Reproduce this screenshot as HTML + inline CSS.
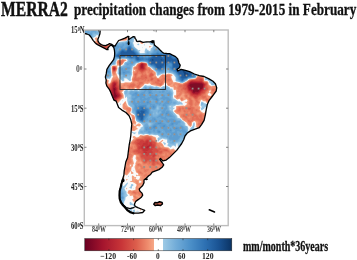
<!DOCTYPE html>
<html><head><meta charset="utf-8"><style>
html,body{margin:0;padding:0;background:#fff;width:357px;height:260px;overflow:hidden;}
sup{font-size:62%;vertical-align:0;position:relative;top:-0.42em;margin-left:0.03em;}
</style></head><body>
<div style="position:absolute;left:1.3px;top:-1.3px;font-family:'Liberation Serif',serif;font-weight:bold;font-size:20.5px;color:#111;white-space:nowrap;line-height:1;transform:scaleX(0.761);transform-origin:0 0;-webkit-text-stroke:0.45px #111;">MERRA2</div>
<div style="position:absolute;left:74.2px;top:1.5px;font-family:'Liberation Serif',serif;font-weight:bold;font-size:16.5px;color:#111;white-space:nowrap;line-height:1;transform:scaleX(0.798);transform-origin:0 0;-webkit-text-stroke:0.3px #111;">precipitation changes from 1979-2015 in February</div>
<svg width="357" height="260" style="position:absolute;left:0;top:0">
<defs>
<clipPath id="land"><path d="M84.0,29.5 L100.3,29.5 L99.9,33.8 L98.9,36.7 L97.9,39.2 L98.0,41.2 L99.3,43.2 L101.3,44.6 L103.5,45.5 L105.6,45.7 L107.8,44.7 L109.5,43.6 L111.9,44.4 L113.3,45.6 L115.0,46.2 L116.3,44.0 L118.6,40.5 L120.0,40.0 L122.5,39.1 L124.9,38.2 L126.8,37.2 L128.0,36.3 L128.9,36.6 L128.6,38.2 L128.3,40.0 L129.8,38.8 L131.4,37.8 L132.3,37.2 L133.5,36.6 L134.8,36.9 L135.1,38.5 L136.0,39.4 L136.6,41.2 L137.8,41.5 L140.0,41.2 L143.0,42.3 L146.5,41.9 L150.0,41.9 L152.9,40.9 L153.9,42.4 L154.4,44.9 L155.9,46.3 L157.8,47.8 L159.8,49.8 L161.8,51.7 L163.7,53.2 L166.7,53.5 L169.6,53.7 L172.5,55.2 L175.5,56.6 L177.5,58.6 L178.4,61.0 L178.9,63.0 L180.2,65.2 L179.4,67.8 L177.0,69.4 L177.8,71.0 L181.0,69.4 L184.5,70.1 L189.6,71.6 L194.4,74.0 L199.3,75.7 L204.1,76.5 L209.0,78.9 L213.0,81.3 L215.4,83.7 L216.7,87.8 L216.2,91.0 L213.8,94.3 L211.4,97.5 L209.0,100.7 L207.3,104.6 L206.2,109.9 L205.4,114.7 L204.1,120.4 L201.7,124.4 L199.3,127.6 L194.4,129.3 L190.4,130.9 L187.1,133.3 L185.0,136.0 L183.7,139.8 L181.7,143.5 L179.1,147.1 L176.7,150.4 L173.4,153.6 L169.4,157.6 L166.2,160.1 L162.9,160.9 L160.5,158.4 L159.7,159.3 L162.1,162.5 L163.7,164.9 L162.1,167.3 L158.9,169.6 L154.9,171.1 L152.2,172.2 L150.6,174.4 L148.7,175.8 L146.2,178.2 L144.0,180.0 L144.0,182.8 L142.7,185.5 L140.6,187.6 L139.2,189.0 L139.9,191.1 L142.0,193.1 L142.7,195.2 L141.3,197.3 L138.5,199.4 L135.7,201.4 L134.4,204.2 L135.1,206.3 L137.8,207.7 L141.3,209.0 L144.7,210.4 L142.7,212.5 L138.5,213.2 L134.4,213.2 L130.2,211.8 L127.4,209.7 L125.4,207.0 L123.3,204.9 L121.2,202.1 L119.8,198.7 L119.8,195.2 L119.8,191.1 L120.5,187.6 L121.2,184.1 L121.9,181.4 L123.0,178.0 L123.9,175.0 L124.2,171.0 L125.0,166.5 L125.8,162.0 L127.6,157.5 L128.4,151.0 L129.2,145.0 L130.1,140.5 L130.8,135.5 L131.4,128.0 L131.8,124.0 L130.8,119.8 L129.1,115.7 L125.9,112.5 L121.9,110.1 L118.6,107.6 L116.2,101.2 L113.9,100.1 L112.3,96.3 L110.8,92.4 L109.3,89.3 L106.9,86.2 L105.9,83.1 L106.2,80.1 L105.4,77.0 L106.2,73.9 L106.9,69.3 L109.3,65.4 L111.6,62.3 L113.6,59.7 L114.5,56.6 L114.7,53.0 L114.4,50.0 L113.8,47.5 L112.0,45.6 L110.9,45.2 L109.3,46.3 L107.8,48.2 L108.0,49.7 L106.6,49.5 L105.2,48.6 L103.2,47.6 L101.3,46.6 L99.4,45.6 L97.5,44.6 L96.0,43.6 L94.6,42.2 L93.1,40.3 L91.2,37.4 L89.3,35.0 L86.9,34.0 L84.0,33.4 Z"/></clipPath>
<clipPath id="frame"><rect x="84.3" y="30" width="143.9" height="195.6"/></clipPath>
<filter id="blur" x="-5%" y="-5%" width="110%" height="110%"><feGaussianBlur stdDeviation="0.6"/></filter>
<linearGradient id="cb" x1="0" x2="1" y1="0" y2="0">
<stop offset="0" stop-color="#6a0022"/><stop offset="0.12" stop-color="#a3142d"/><stop offset="0.25" stop-color="#c83538"/>
<stop offset="0.35" stop-color="#dc5e4c"/><stop offset="0.43" stop-color="#ef8d6e"/><stop offset="0.471" stop-color="#f6a988"/>
<stop offset="0.471" stop-color="#ffffff"/><stop offset="0.529" stop-color="#ffffff"/>
<stop offset="0.529" stop-color="#9fcbe6"/><stop offset="0.62" stop-color="#72acd8"/><stop offset="0.72" stop-color="#4b8fc8"/>
<stop offset="0.82" stop-color="#2d70b2"/><stop offset="0.91" stop-color="#1a5393"/><stop offset="1" stop-color="#0b3363"/>
</linearGradient>
</defs>
<g clip-path="url(#frame)">
<g clip-path="url(#land)">
<g filter="url(#blur)">
<path fill="#7e0726" fill-rule="evenodd" d="M84.5,30.5 102.5,30.5 102.5,34.5 101.5,35.5 101.5,37.5 100.5,38.5 100.5,41.5 101.5,42.5 103.5,42.5 104.5,43.5 105.5,43.5 108.5,41.5 111.5,41.5 113.5,43.5 119.5,37.5 120.5,37.5 121.5,36.5 123.5,36.5 124.5,35.5 125.5,35.5 128.5,33.5 130.5,35.5 131.5,35.5 132.5,34.5 134.5,34.5 138.5,38.5 140.5,38.5 141.5,39.5 150.5,39.5 151.5,38.5 152.5,38.5 156.5,42.5 156.5,44.5 157.5,45.5 158.5,45.5 163.5,50.5 166.5,50.5 167.5,51.5 170.5,51.5 171.5,52.5 172.5,52.5 173.5,53.5 174.5,53.5 180.5,59.5 180.5,60.5 181.5,61.5 181.5,63.5 182.5,64.5 182.5,66.5 183.5,67.5 185.5,67.5 186.5,68.5 188.5,68.5 189.5,69.5 190.5,69.5 193.5,71.5 195.5,71.5 196.5,72.5 198.5,72.5 199.5,73.5 203.5,73.5 204.5,74.5 205.5,74.5 206.5,75.5 207.5,75.5 208.5,76.5 209.5,76.5 210.5,77.5 211.5,77.5 218.5,84.5 218.5,86.5 219.5,87.5 219.5,88.5 218.5,89.5 218.5,91.5 216.5,93.5 216.5,94.5 213.5,97.5 213.5,98.5 211.5,100.5 211.5,101.5 209.5,104.5 209.5,107.5 208.5,108.5 208.5,113.5 207.5,114.5 207.5,118.5 206.5,119.5 206.5,120.5 205.5,121.5 205.5,122.5 204.5,123.5 204.5,124.5 198.5,130.5 197.5,130.5 196.5,131.5 194.5,131.5 193.5,132.5 191.5,132.5 189.5,134.5 188.5,134.5 187.5,135.5 187.5,136.5 186.5,137.5 186.5,139.5 185.5,140.5 185.5,141.5 184.5,142.5 184.5,143.5 182.5,145.5 182.5,146.5 179.5,149.5 179.5,150.5 169.5,160.5 168.5,160.5 165.5,163.5 165.5,166.5 161.5,170.5 160.5,170.5 158.5,172.5 156.5,172.5 155.5,173.5 154.5,173.5 153.5,174.5 152.5,174.5 146.5,180.5 146.5,183.5 145.5,184.5 145.5,185.5 141.5,189.5 142.5,190.5 142.5,191.5 144.5,193.5 144.5,196.5 139.5,201.5 138.5,201.5 137.5,202.5 137.5,204.5 138.5,205.5 139.5,205.5 140.5,206.5 142.5,206.5 143.5,207.5 144.5,207.5 147.5,210.5 142.5,215.5 132.5,215.5 131.5,214.5 130.5,214.5 129.5,213.5 128.5,213.5 124.5,209.5 124.5,208.5 119.5,203.5 119.5,202.5 117.5,199.5 117.5,188.5 118.5,187.5 118.5,183.5 119.5,182.5 119.5,180.5 120.5,179.5 120.5,176.5 121.5,175.5 121.5,169.5 122.5,168.5 122.5,164.5 123.5,163.5 123.5,160.5 125.5,157.5 125.5,150.5 126.5,149.5 126.5,143.5 127.5,142.5 127.5,138.5 128.5,137.5 128.5,127.5 129.5,126.5 129.5,123.5 128.5,122.5 128.5,119.5 127.5,118.5 127.5,117.5 126.5,116.5 126.5,115.5 125.5,114.5 124.5,114.5 122.5,112.5 121.5,112.5 115.5,106.5 115.5,105.5 114.5,104.5 114.5,102.5 110.5,98.5 110.5,97.5 109.5,96.5 109.5,94.5 108.5,93.5 108.5,92.5 107.5,91.5 107.5,90.5 106.5,89.5 106.5,88.5 104.5,86.5 104.5,85.5 103.5,84.5 103.5,72.5 104.5,71.5 104.5,68.5 106.5,66.5 106.5,65.5 108.5,63.5 108.5,62.5 111.5,59.5 111.5,57.5 112.5,56.5 112.5,51.5 110.5,49.5 107.5,52.5 106.5,51.5 105.5,51.5 104.5,50.5 103.5,50.5 102.5,49.5 101.5,49.5 100.5,48.5 99.5,48.5 98.5,47.5 97.5,47.5 90.5,40.5 90.5,39.5 87.5,36.5 84.5,36.5Z"/>
<path fill="#a2142d" fill-rule="evenodd" d="M84.5,30.5 102.5,30.5 102.5,34.5 101.5,35.5 101.5,37.5 100.5,38.5 100.5,41.5 101.5,42.5 103.5,42.5 104.5,43.5 105.5,43.5 108.5,41.5 111.5,41.5 113.5,43.5 119.5,37.5 120.5,37.5 121.5,36.5 123.5,36.5 124.5,35.5 125.5,35.5 128.5,33.5 130.5,35.5 131.5,35.5 132.5,34.5 134.5,34.5 138.5,38.5 140.5,38.5 141.5,39.5 150.5,39.5 151.5,38.5 152.5,38.5 156.5,42.5 156.5,44.5 157.5,45.5 158.5,45.5 163.5,50.5 166.5,50.5 167.5,51.5 170.5,51.5 171.5,52.5 172.5,52.5 173.5,53.5 174.5,53.5 180.5,59.5 180.5,60.5 181.5,61.5 181.5,63.5 182.5,64.5 182.5,66.5 183.5,67.5 185.5,67.5 186.5,68.5 188.5,68.5 189.5,69.5 190.5,69.5 193.5,71.5 195.5,71.5 196.5,72.5 198.5,72.5 199.5,73.5 203.5,73.5 204.5,74.5 205.5,74.5 206.5,75.5 207.5,75.5 208.5,76.5 209.5,76.5 210.5,77.5 211.5,77.5 218.5,84.5 218.5,86.5 219.5,87.5 219.5,88.5 218.5,89.5 218.5,91.5 216.5,93.5 216.5,94.5 213.5,97.5 213.5,98.5 211.5,100.5 211.5,101.5 209.5,104.5 209.5,107.5 208.5,108.5 208.5,113.5 207.5,114.5 207.5,118.5 206.5,119.5 206.5,120.5 205.5,121.5 205.5,122.5 204.5,123.5 204.5,124.5 198.5,130.5 197.5,130.5 196.5,131.5 194.5,131.5 193.5,132.5 191.5,132.5 189.5,134.5 188.5,134.5 187.5,135.5 187.5,136.5 186.5,137.5 186.5,139.5 185.5,140.5 185.5,141.5 184.5,142.5 184.5,143.5 182.5,145.5 182.5,146.5 179.5,149.5 179.5,150.5 169.5,160.5 168.5,160.5 165.5,163.5 165.5,166.5 161.5,170.5 160.5,170.5 158.5,172.5 156.5,172.5 155.5,173.5 154.5,173.5 153.5,174.5 152.5,174.5 146.5,180.5 146.5,183.5 145.5,184.5 145.5,185.5 141.5,189.5 142.5,190.5 142.5,191.5 144.5,193.5 144.5,196.5 139.5,201.5 138.5,201.5 137.5,202.5 137.5,204.5 138.5,205.5 139.5,205.5 140.5,206.5 142.5,206.5 143.5,207.5 144.5,207.5 147.5,210.5 142.5,215.5 132.5,215.5 131.5,214.5 130.5,214.5 129.5,213.5 128.5,213.5 124.5,209.5 124.5,208.5 119.5,203.5 119.5,202.5 117.5,199.5 117.5,188.5 118.5,187.5 118.5,183.5 119.5,182.5 119.5,180.5 120.5,179.5 120.5,176.5 121.5,175.5 121.5,169.5 122.5,168.5 122.5,164.5 123.5,163.5 123.5,160.5 125.5,157.5 125.5,150.5 126.5,149.5 126.5,143.5 127.5,142.5 127.5,138.5 128.5,137.5 128.5,127.5 129.5,126.5 129.5,123.5 128.5,122.5 128.5,119.5 127.5,118.5 127.5,117.5 126.5,116.5 126.5,115.5 125.5,114.5 124.5,114.5 122.5,112.5 121.5,112.5 115.5,106.5 115.5,105.5 114.5,104.5 114.5,102.5 110.5,98.5 110.5,97.5 109.5,96.5 109.5,94.5 108.5,93.5 108.5,92.5 107.5,91.5 107.5,90.5 106.5,89.5 106.5,88.5 104.5,86.5 104.5,85.5 103.5,84.5 103.5,72.5 104.5,71.5 104.5,68.5 106.5,66.5 106.5,65.5 108.5,63.5 108.5,62.5 111.5,59.5 111.5,57.5 112.5,56.5 112.5,51.5 110.5,49.5 107.5,52.5 106.5,51.5 105.5,51.5 104.5,50.5 103.5,50.5 102.5,49.5 101.5,49.5 100.5,48.5 99.5,48.5 98.5,47.5 97.5,47.5 90.5,40.5 90.5,39.5 87.5,36.5 84.5,36.5ZM113.5,88.2 114.3,94.5 113.5,96.5 114.5,98.0 116.7,96.5 117.0,95.5 115.8,94.5 114.7,91.5 115.5,89.2 114.5,88.0ZM195.5,83.3 190.5,83.8 189.4,85.5 191.1,87.5 190.6,88.5 192.5,89.6 193.1,90.5 192.9,91.5 193.5,92.6 194.8,92.5 195.5,91.4 197.5,92.0 198.5,91.4 199.5,89.6 201.5,88.9 202.7,87.5 202.9,84.5 201.9,83.5Z"/>
<path fill="#b42332" fill-rule="evenodd" d="M84.5,30.5 102.5,30.5 102.5,34.5 101.5,35.5 101.5,37.5 100.5,38.5 100.5,41.5 101.5,42.5 103.5,42.5 104.5,43.5 105.5,43.5 108.5,41.5 111.5,41.5 113.5,43.5 119.5,37.5 120.5,37.5 121.5,36.5 123.5,36.5 124.5,35.5 125.5,35.5 128.5,33.5 130.5,35.5 131.5,35.5 132.5,34.5 134.5,34.5 138.5,38.5 140.5,38.5 141.5,39.5 150.5,39.5 151.5,38.5 152.5,38.5 156.5,42.5 156.5,44.5 157.5,45.5 158.5,45.5 163.5,50.5 166.5,50.5 167.5,51.5 170.5,51.5 171.5,52.5 172.5,52.5 173.5,53.5 174.5,53.5 180.5,59.5 180.5,60.5 181.5,61.5 181.5,63.5 182.5,64.5 182.5,66.5 183.5,67.5 185.5,67.5 186.5,68.5 188.5,68.5 189.5,69.5 190.5,69.5 193.5,71.5 195.5,71.5 196.5,72.5 198.5,72.5 199.5,73.5 203.5,73.5 204.5,74.5 205.5,74.5 206.5,75.5 207.5,75.5 208.5,76.5 209.5,76.5 210.5,77.5 211.5,77.5 218.5,84.5 218.5,86.5 219.5,87.5 219.5,88.5 218.5,89.5 218.5,91.5 216.5,93.5 216.5,94.5 213.5,97.5 213.5,98.5 211.5,100.5 211.5,101.5 209.5,104.5 209.5,107.5 208.5,108.5 208.5,113.5 207.5,114.5 207.5,118.5 206.5,119.5 206.5,120.5 205.5,121.5 205.5,122.5 204.5,123.5 204.5,124.5 198.5,130.5 197.5,130.5 196.5,131.5 194.5,131.5 193.5,132.5 191.5,132.5 189.5,134.5 188.5,134.5 187.5,135.5 187.5,136.5 186.5,137.5 186.5,139.5 185.5,140.5 185.5,141.5 184.5,142.5 184.5,143.5 182.5,145.5 182.5,146.5 179.5,149.5 179.5,150.5 169.5,160.5 168.5,160.5 165.5,163.5 165.5,166.5 161.5,170.5 160.5,170.5 158.5,172.5 156.5,172.5 155.5,173.5 154.5,173.5 153.5,174.5 152.5,174.5 146.5,180.5 146.5,183.5 145.5,184.5 145.5,185.5 141.5,189.5 142.5,190.5 142.5,191.5 144.5,193.5 144.5,196.5 139.5,201.5 138.5,201.5 137.5,202.5 137.5,204.5 138.5,205.5 139.5,205.5 140.5,206.5 142.5,206.5 143.5,207.5 144.5,207.5 147.5,210.5 142.5,215.5 132.5,215.5 131.5,214.5 130.5,214.5 129.5,213.5 128.5,213.5 124.5,209.5 124.5,208.5 119.5,203.5 119.5,202.5 117.5,199.5 117.5,188.5 118.5,187.5 118.5,183.5 119.5,182.5 119.5,180.5 120.5,179.5 120.5,176.5 121.5,175.5 121.5,169.5 122.5,168.5 122.5,164.5 123.5,163.5 123.5,160.5 125.5,157.5 125.5,150.5 126.5,149.5 126.5,143.5 127.5,142.5 127.5,138.5 128.5,137.5 128.5,127.5 129.5,126.5 129.5,123.5 128.5,122.5 128.5,119.5 127.5,118.5 127.5,117.5 126.5,116.5 126.5,115.5 125.5,114.5 124.5,114.5 122.5,112.5 121.5,112.5 115.5,106.5 115.5,105.5 114.5,104.5 114.5,102.5 110.5,98.5 110.5,97.5 109.5,96.5 109.5,94.5 108.5,93.5 108.5,92.5 107.5,91.5 107.5,90.5 106.5,89.5 106.5,88.5 104.5,86.5 104.5,85.5 103.5,84.5 103.5,72.5 104.5,71.5 104.5,68.5 106.5,66.5 106.5,65.5 108.5,63.5 108.5,62.5 111.5,59.5 111.5,57.5 112.5,56.5 112.5,51.5 110.5,49.5 107.5,52.5 106.5,51.5 105.5,51.5 104.5,50.5 103.5,50.5 102.5,49.5 101.5,49.5 100.5,48.5 99.5,48.5 98.5,47.5 97.5,47.5 90.5,40.5 90.5,39.5 87.5,36.5 84.5,36.5ZM114.5,83.4 113.2,85.5 112.4,95.5 113.2,97.5 112.9,99.5 113.2,100.5 114.5,100.9 115.8,98.5 118.2,96.5 118.7,95.5 116.5,93.5 116.0,91.5 116.3,88.5 114.8,86.5 115.7,84.5 115.5,83.5ZM141.5,64.1 140.7,66.5 141.5,68.1 142.9,67.5 143.1,66.5 142.9,64.5 142.5,64.0ZM190.5,82.2 189.3,83.5 188.4,85.5 188.5,87.8 189.2,89.5 191.6,90.5 192.3,92.5 193.5,93.6 197.5,93.6 199.5,92.0 200.5,90.5 203.2,88.5 203.8,84.5 202.5,83.1 200.5,82.5 197.5,82.6 191.5,81.7Z"/>
<path fill="#c23036" fill-rule="evenodd" d="M84.5,30.5 102.5,30.5 102.5,34.5 101.5,35.5 101.5,37.5 100.5,38.5 100.5,41.5 101.5,42.5 103.5,42.5 104.5,43.5 105.5,43.5 108.5,41.5 111.5,41.5 113.5,43.5 119.5,37.5 120.5,37.5 121.5,36.5 123.5,36.5 124.5,35.5 125.5,35.5 128.5,33.5 130.5,35.5 131.5,35.5 132.5,34.5 134.5,34.5 138.5,38.5 140.5,38.5 141.5,39.5 150.5,39.5 151.5,38.5 152.5,38.5 156.5,42.5 156.5,44.5 157.5,45.5 158.5,45.5 163.5,50.5 166.5,50.5 167.5,51.5 170.5,51.5 171.5,52.5 172.5,52.5 173.5,53.5 174.5,53.5 180.5,59.5 180.5,60.5 181.5,61.5 181.5,63.5 182.5,64.5 182.5,66.5 183.5,67.5 185.5,67.5 186.5,68.5 188.5,68.5 189.5,69.5 190.5,69.5 193.5,71.5 195.5,71.5 196.5,72.5 198.5,72.5 199.5,73.5 203.5,73.5 204.5,74.5 205.5,74.5 206.5,75.5 207.5,75.5 208.5,76.5 209.5,76.5 210.5,77.5 211.5,77.5 218.5,84.5 218.5,86.5 219.5,87.5 219.5,88.5 218.5,89.5 218.5,91.5 216.5,93.5 216.5,94.5 213.5,97.5 213.5,98.5 211.5,100.5 211.5,101.5 209.5,104.5 209.5,107.5 208.5,108.5 208.5,113.5 207.5,114.5 207.5,118.5 206.5,119.5 206.5,120.5 205.5,121.5 205.5,122.5 204.5,123.5 204.5,124.5 198.5,130.5 197.5,130.5 196.5,131.5 194.5,131.5 193.5,132.5 191.5,132.5 189.5,134.5 188.5,134.5 187.5,135.5 187.5,136.5 186.5,137.5 186.5,139.5 185.5,140.5 185.5,141.5 184.5,142.5 184.5,143.5 182.5,145.5 182.5,146.5 179.5,149.5 179.5,150.5 169.5,160.5 168.5,160.5 165.5,163.5 165.5,166.5 161.5,170.5 160.5,170.5 158.5,172.5 156.5,172.5 155.5,173.5 154.5,173.5 153.5,174.5 152.5,174.5 146.5,180.5 146.5,183.5 145.5,184.5 145.5,185.5 141.5,189.5 142.5,190.5 142.5,191.5 144.5,193.5 144.5,196.5 139.5,201.5 138.5,201.5 137.5,202.5 137.5,204.5 138.5,205.5 139.5,205.5 140.5,206.5 142.5,206.5 143.5,207.5 144.5,207.5 147.5,210.5 142.5,215.5 132.5,215.5 131.5,214.5 130.5,214.5 129.5,213.5 128.5,213.5 124.5,209.5 124.5,208.5 119.5,203.5 119.5,202.5 117.5,199.5 117.5,188.5 118.5,187.5 118.5,183.5 119.5,182.5 119.5,180.5 120.5,179.5 120.5,176.5 121.5,175.5 121.5,169.5 122.5,168.5 122.5,164.5 123.5,163.5 123.5,160.5 125.5,157.5 125.5,150.5 126.5,149.5 126.5,143.5 127.5,142.5 127.5,138.5 128.5,137.5 128.5,127.5 129.5,126.5 129.5,123.5 128.5,122.5 128.5,119.5 127.5,118.5 127.5,117.5 126.5,116.5 126.5,115.5 125.5,114.5 124.5,114.5 122.5,112.5 121.5,112.5 115.5,106.5 115.5,105.5 114.5,104.5 114.5,102.5 110.5,98.5 110.5,97.5 109.5,96.5 109.5,94.5 108.5,93.5 108.5,92.5 107.5,91.5 107.5,90.5 106.5,89.5 106.5,88.5 104.5,86.5 104.5,85.5 103.5,84.5 103.5,72.5 104.5,71.5 104.5,68.5 106.5,66.5 106.5,65.5 108.5,63.5 108.5,62.5 111.5,59.5 111.5,57.5 112.5,56.5 112.5,51.5 110.5,49.5 107.5,52.5 106.5,51.5 105.5,51.5 104.5,50.5 103.5,50.5 102.5,49.5 101.5,49.5 100.5,48.5 99.5,48.5 98.5,47.5 97.5,47.5 90.5,40.5 90.5,39.5 87.5,36.5 84.5,36.5ZM113.5,67.9 113.4,69.5 114.5,69.7 114.9,68.5 114.5,67.7ZM141.5,63.4 140.1,65.5 140.5,68.5 141.5,69.1 143.5,68.9 143.9,68.5 143.8,64.5 142.8,63.5ZM149.5,145.3 148.5,146.1 147.5,146.0 146.8,146.5 146.1,147.5 146.5,148.3 147.5,148.5 148.5,147.2 149.5,147.1 150.1,146.5 150.0,145.5ZM191.5,81.2 189.4,82.5 187.7,85.5 187.6,86.5 188.5,89.6 189.2,90.5 191.2,91.5 192.5,93.6 193.5,94.3 197.5,94.4 199.5,93.0 201.6,90.5 203.5,89.4 204.1,88.5 204.7,84.5 204.0,83.5 201.5,81.8 193.5,81.7ZM114.5,82.5 113.5,82.7 112.7,84.5 111.7,90.5 111.7,95.5 112.0,99.5 113.5,101.4 114.5,101.5 115.6,100.5 116.5,98.4 119.3,96.5 119.7,95.5 119.4,94.5 117.2,92.5 117.0,88.5 115.6,86.5 116.1,83.5Z"/>
<path fill="#cc3e3c" fill-rule="evenodd" d="M84.5,30.5 102.5,30.5 102.5,34.5 101.5,35.5 101.5,37.5 100.5,38.5 100.5,41.5 101.5,42.5 103.5,42.5 104.5,43.5 105.5,43.5 108.5,41.5 111.5,41.5 113.5,43.5 119.5,37.5 120.5,37.5 121.5,36.5 123.5,36.5 124.5,35.5 125.5,35.5 128.5,33.5 130.5,35.5 131.5,35.5 132.5,34.5 134.5,34.5 138.5,38.5 140.5,38.5 141.5,39.5 150.5,39.5 151.5,38.5 152.5,38.5 156.5,42.5 156.5,44.5 157.5,45.5 158.5,45.5 163.5,50.5 166.5,50.5 167.5,51.5 170.5,51.5 171.5,52.5 172.5,52.5 173.5,53.5 174.5,53.5 180.5,59.5 180.5,60.5 181.5,61.5 181.5,63.5 182.5,64.5 182.5,66.5 183.5,67.5 185.5,67.5 186.5,68.5 188.5,68.5 189.5,69.5 190.5,69.5 193.5,71.5 195.5,71.5 196.5,72.5 198.5,72.5 199.5,73.5 203.5,73.5 204.5,74.5 205.5,74.5 206.5,75.5 207.5,75.5 208.5,76.5 209.5,76.5 210.5,77.5 211.5,77.5 218.5,84.5 218.5,86.5 219.5,87.5 219.5,88.5 218.5,89.5 218.5,91.5 216.5,93.5 216.5,94.5 213.5,97.5 213.5,98.5 211.5,100.5 211.5,101.5 209.5,104.5 209.5,107.5 208.5,108.5 208.5,113.5 207.5,114.5 207.5,118.5 206.5,119.5 206.5,120.5 205.5,121.5 205.5,122.5 204.5,123.5 204.5,124.5 198.5,130.5 197.5,130.5 196.5,131.5 194.5,131.5 193.5,132.5 191.5,132.5 189.5,134.5 188.5,134.5 187.5,135.5 187.5,136.5 186.5,137.5 186.5,139.5 185.5,140.5 185.5,141.5 184.5,142.5 184.5,143.5 182.5,145.5 182.5,146.5 179.5,149.5 179.5,150.5 169.5,160.5 168.5,160.5 165.5,163.5 165.5,166.5 161.5,170.5 160.5,170.5 158.5,172.5 156.5,172.5 155.5,173.5 154.5,173.5 153.5,174.5 152.5,174.5 146.5,180.5 146.5,183.5 145.5,184.5 145.5,185.5 141.5,189.5 142.5,190.5 142.5,191.5 144.5,193.5 144.5,196.5 139.5,201.5 138.5,201.5 137.5,202.5 137.5,204.5 138.5,205.5 139.5,205.5 140.5,206.5 142.5,206.5 143.5,207.5 144.5,207.5 147.5,210.5 142.5,215.5 132.5,215.5 131.5,214.5 130.5,214.5 129.5,213.5 128.5,213.5 124.5,209.5 124.5,208.5 119.5,203.5 119.5,202.5 117.5,199.5 117.5,188.5 118.5,187.5 118.5,183.5 119.5,182.5 119.5,180.5 120.5,179.5 120.5,176.5 121.5,175.5 121.5,169.5 122.5,168.5 122.5,164.5 123.5,163.5 123.5,160.5 125.5,157.5 125.5,150.5 126.5,149.5 126.5,143.5 127.5,142.5 127.5,138.5 128.5,137.5 128.5,127.5 129.5,126.5 129.5,123.5 128.5,122.5 128.5,119.5 127.5,118.5 127.5,117.5 126.5,116.5 126.5,115.5 125.5,114.5 124.5,114.5 122.5,112.5 121.5,112.5 115.5,106.5 115.5,105.5 114.5,104.5 114.5,102.5 113.8,101.8 114.5,101.8 115.5,101.1 117.0,98.5 119.5,97.1 120.2,95.5 119.9,94.5 117.5,91.5 117.6,88.5 116.3,86.5 116.5,83.5 116.0,82.5 114.5,82.0 113.5,82.2 112.3,83.5 111.8,87.5 110.9,89.5 111.5,92.5 110.8,95.5 111.2,99.2 110.5,98.5 110.5,97.5 109.5,96.5 109.5,94.5 108.5,93.5 108.5,92.5 107.5,91.5 107.5,90.5 106.5,89.5 106.5,88.5 104.5,86.5 104.5,85.5 103.5,84.5 103.5,72.5 104.5,71.5 104.5,68.5 106.5,66.5 106.5,65.5 108.5,63.5 108.5,62.5 111.5,59.5 111.5,57.5 112.5,56.5 112.5,51.5 110.5,49.5 107.5,52.5 106.5,51.5 105.5,51.5 104.5,50.5 103.5,50.5 102.5,49.5 101.5,49.5 100.5,48.5 99.5,48.5 98.5,47.5 97.5,47.5 90.5,40.5 90.5,39.5 87.5,36.5 84.5,36.5ZM113.5,67.3 113.0,68.5 113.1,69.5 113.5,70.1 114.5,70.2 115.4,68.5 114.5,67.1ZM141.5,63.1 140.2,64.5 139.6,66.5 139.9,68.5 140.5,69.4 142.5,69.8 143.5,69.6 144.5,68.5 144.3,66.5 144.8,64.5 143.5,63.5ZM147.5,140.3 146.5,141.0 145.5,142.8 143.5,142.9 142.9,143.5 142.8,144.5 140.5,147.5 142.9,149.5 143.5,150.9 144.5,151.4 148.3,150.5 151.3,146.5 151.8,144.5 151.5,143.4 150.5,142.6 148.5,144.9 147.7,143.5 148.0,141.5ZM190.5,81.2 188.2,83.5 187.1,85.5 187.1,86.5 188.5,90.7 190.3,91.5 192.4,94.5 197.5,95.1 199.8,93.5 202.4,90.5 204.6,89.5 204.4,86.5 205.3,84.5 201.5,80.9 197.5,81.3 192.5,80.8ZM144.5,151.6 144.0,152.5 144.5,153.0 146.5,153.3 147.1,152.5 146.5,151.9ZM143.8,145.5 145.5,145.0 146.0,145.5 144.5,145.9Z"/>
<path fill="#d44d44" fill-rule="evenodd" d="M84.5,30.5 102.5,30.5 102.5,34.5 101.5,35.5 101.5,37.5 100.5,38.5 100.5,41.5 101.5,42.5 103.5,42.5 104.5,43.5 105.5,43.5 108.5,41.5 111.5,41.5 113.5,43.5 119.5,37.5 120.5,37.5 121.5,36.5 123.5,36.5 124.5,35.5 125.5,35.5 128.5,33.5 130.5,35.5 131.5,35.5 132.5,34.5 134.5,34.5 138.5,38.5 140.5,38.5 141.5,39.5 150.5,39.5 151.5,38.5 152.5,38.5 156.5,42.5 156.5,44.5 157.5,45.5 158.5,45.5 163.5,50.5 166.5,50.5 167.5,51.5 170.5,51.5 171.5,52.5 172.5,52.5 173.5,53.5 174.5,53.5 180.5,59.5 180.5,60.5 181.5,61.5 181.5,63.5 182.5,64.5 182.5,66.5 183.5,67.5 185.5,67.5 186.5,68.5 188.5,68.5 189.5,69.5 190.5,69.5 193.5,71.5 195.5,71.5 196.5,72.5 198.5,72.5 199.5,73.5 203.5,73.5 204.5,74.5 205.5,74.5 206.5,75.5 207.5,75.5 208.5,76.5 209.5,76.5 210.5,77.5 211.5,77.5 218.5,84.5 218.5,86.5 219.5,87.5 219.5,88.5 218.5,89.5 218.5,91.5 216.5,93.5 216.5,94.5 213.5,97.5 213.5,98.5 211.5,100.5 211.5,101.5 209.5,104.5 209.5,107.5 208.5,108.5 208.5,113.5 207.5,114.5 207.5,118.5 206.5,119.5 206.5,120.5 205.5,121.5 205.5,122.5 204.5,123.5 204.5,124.5 198.5,130.5 197.5,130.5 196.5,131.5 194.5,131.5 193.5,132.5 191.5,132.5 189.5,134.5 188.5,134.5 187.5,135.5 187.5,136.5 186.5,137.5 186.5,139.5 185.5,140.5 185.5,141.5 184.5,142.5 184.5,143.5 182.5,145.5 182.5,146.5 179.5,149.5 179.5,150.5 169.5,160.5 168.5,160.5 165.5,163.5 165.5,166.5 161.5,170.5 160.5,170.5 158.5,172.5 156.5,172.5 155.5,173.5 154.5,173.5 153.5,174.5 152.5,174.5 146.5,180.5 146.5,183.5 145.5,184.5 145.5,185.5 141.5,189.5 142.5,190.5 142.5,191.5 144.5,193.5 144.5,196.5 139.5,201.5 138.5,201.5 137.5,202.5 137.5,204.5 138.5,205.5 139.5,205.5 140.5,206.5 142.5,206.5 143.5,207.5 144.5,207.5 147.5,210.5 142.5,215.5 132.5,215.5 131.5,214.5 130.5,214.5 129.5,213.5 128.5,213.5 124.5,209.5 124.5,208.5 119.5,203.5 119.5,202.5 117.5,199.5 117.5,188.5 118.5,187.5 118.5,183.5 119.5,182.5 119.5,180.5 120.5,179.5 120.5,176.5 121.5,175.5 121.5,169.5 122.5,168.5 122.5,164.5 123.5,163.5 123.5,160.5 125.5,157.5 125.5,150.5 126.5,149.5 126.5,143.5 127.5,142.5 127.5,138.5 128.5,137.5 128.5,127.5 129.5,126.5 129.5,123.5 128.5,122.5 128.5,119.5 127.5,118.5 127.5,117.5 126.5,116.5 126.5,115.5 125.5,114.5 124.5,114.5 122.5,112.5 121.5,112.5 115.5,106.5 115.5,105.5 114.5,104.5 114.5,102.5 114.1,102.1 115.6,101.5 117.5,98.7 119.5,97.9 120.7,95.5 118.0,90.5 118.3,88.5 117.0,85.5 116.9,82.5 114.5,81.5 112.5,82.4 111.8,83.5 110.8,87.5 109.6,88.5 109.6,89.5 110.9,92.5 109.5,96.0 109.5,94.5 108.5,93.5 108.5,92.5 107.5,91.5 107.5,90.5 106.5,89.5 106.5,88.5 104.5,86.5 104.5,85.5 103.5,84.5 103.5,72.5 104.5,71.5 104.5,68.5 106.5,66.5 106.5,65.5 108.5,63.5 108.5,62.5 111.5,59.5 111.5,57.5 112.5,56.5 112.5,51.5 110.5,49.5 107.5,52.5 106.5,51.5 105.5,51.5 104.5,50.5 103.5,50.5 102.5,49.5 101.5,49.5 100.5,48.5 99.5,48.5 98.5,47.5 97.5,47.5 90.5,40.5 90.5,39.5 87.5,36.5 84.5,36.5ZM113.5,66.8 112.7,68.5 112.8,69.5 113.5,70.6 114.5,70.7 115.8,68.5 115.5,67.5 114.5,66.7ZM140.5,63.4 139.1,65.5 139.5,69.5 142.5,70.7 144.6,69.5 145.2,68.5 144.8,66.5 145.9,64.5 144.9,63.5 142.5,62.9ZM200.5,79.2 199.6,80.5 198.5,80.7 192.5,80.3 190.5,80.9 188.4,82.5 186.7,84.5 186.8,87.5 188.2,91.5 189.5,91.9 191.5,95.2 194.3,95.5 194.5,96.8 195.5,96.9 200.5,94.0 201.5,92.7 202.7,92.5 202.7,91.5 203.5,90.7 205.4,89.5 204.9,86.5 206.1,84.5 205.5,83.5 202.5,81.5 202.2,79.5ZM140.5,140.5 139.4,142.5 137.4,143.5 140.5,145.5 139.5,146.5 138.5,146.6 138.5,149.7 140.5,148.8 141.7,149.5 142.8,151.5 142.9,153.5 143.5,154.1 145.5,154.3 146.5,156.3 147.5,156.3 149.5,154.1 150.5,155.0 151.3,154.5 151.3,153.5 153.0,152.5 152.5,151.4 151.4,150.5 153.0,149.5 151.9,148.5 153.5,148.0 154.5,146.4 154.5,144.6 152.5,144.2 152.2,142.5 151.5,141.8 149.5,142.0 148.5,140.1 147.5,139.7 146.5,140.0 144.5,141.7 142.5,140.1ZM142.5,155.5 143.5,156.1 143.5,155.2ZM154.5,154.1 152.7,155.5 152.6,156.5 153.5,157.4 155.3,155.5 155.2,154.5ZM153.5,160.1 152.8,160.5 153.5,161.5 154.0,160.5ZM194.6,95.5 195.7,95.5 195.5,96.0Z"/>
<path fill="#db5c4b" fill-rule="evenodd" d="M84.5,30.5 102.5,30.5 102.5,34.5 101.5,35.5 101.5,37.5 100.5,38.5 100.5,41.5 101.5,42.5 103.5,42.5 104.5,43.5 105.5,43.5 108.5,41.5 111.5,41.5 113.5,43.5 119.5,37.5 120.5,37.5 121.5,36.5 123.5,36.5 124.5,35.5 125.5,35.5 128.5,33.5 130.5,35.5 131.5,35.5 132.5,34.5 134.5,34.5 138.5,38.5 140.5,38.5 141.5,39.5 150.5,39.5 151.5,38.5 152.5,38.5 156.5,42.5 156.5,44.5 157.5,45.5 158.5,45.5 163.5,50.5 166.5,50.5 167.5,51.5 170.5,51.5 171.5,52.5 172.5,52.5 173.5,53.5 174.5,53.5 180.5,59.5 180.5,60.5 181.5,61.5 181.5,63.5 182.5,64.5 182.5,66.5 183.5,67.5 185.5,67.5 186.5,68.5 188.5,68.5 189.5,69.5 190.5,69.5 193.5,71.5 195.5,71.5 196.5,72.5 198.5,72.5 199.5,73.5 203.5,73.5 204.5,74.5 205.5,74.5 206.5,75.5 207.5,75.5 208.5,76.5 209.5,76.5 210.5,77.5 211.5,77.5 218.5,84.5 218.5,86.5 219.5,87.5 219.5,88.5 218.5,89.5 218.5,91.5 216.5,93.5 216.5,94.5 213.5,97.5 213.5,98.5 211.5,100.5 211.5,101.5 209.5,104.5 209.5,107.5 208.5,108.5 208.5,113.5 207.5,114.5 207.5,118.5 206.5,119.5 206.5,120.5 205.5,121.5 205.5,122.5 204.5,123.5 204.5,124.5 198.5,130.5 197.5,130.5 196.5,131.5 194.5,131.5 193.5,132.5 191.5,132.5 189.5,134.5 188.5,134.5 187.5,135.5 187.5,136.5 186.5,137.5 186.5,139.5 185.5,140.5 185.5,141.5 184.5,142.5 184.5,143.5 182.5,145.5 182.5,146.5 179.5,149.5 179.5,150.5 169.5,160.5 168.5,160.5 165.5,163.5 165.5,166.5 161.5,170.5 160.5,170.5 158.5,172.5 156.5,172.5 155.5,173.5 154.5,173.5 153.5,174.5 152.5,174.5 146.5,180.5 146.5,183.5 145.5,184.5 145.5,185.5 141.5,189.5 142.5,190.5 142.5,191.5 144.5,193.5 144.5,196.5 139.5,201.5 138.5,201.5 137.5,202.5 137.5,204.5 138.5,205.5 139.5,205.5 140.5,206.5 142.5,206.5 143.5,207.5 144.5,207.5 147.5,210.5 142.5,215.5 132.5,215.5 131.5,214.5 130.5,214.5 129.5,213.5 128.5,213.5 124.5,209.5 124.5,208.5 119.5,203.5 119.5,202.5 117.5,199.5 117.5,188.5 118.5,187.5 118.5,183.5 119.5,182.5 119.5,180.5 120.5,179.5 120.5,176.5 121.5,175.5 121.5,169.5 122.5,168.5 122.5,164.5 123.5,163.5 123.5,160.5 125.5,157.5 125.5,150.5 126.5,149.5 126.5,143.5 127.5,142.5 127.5,138.5 128.5,137.5 128.5,127.5 129.5,126.5 129.5,123.5 128.5,122.5 128.5,119.5 127.5,118.5 127.5,117.5 126.5,116.5 126.5,115.5 125.5,114.5 124.5,114.5 122.5,112.5 121.5,112.5 115.5,106.5 115.5,105.5 114.5,104.5 114.4,102.4 116.0,101.5 117.5,99.3 119.5,98.5 121.1,96.5 121.2,95.5 118.6,90.5 119.3,88.5 118.8,86.5 117.5,85.1 117.6,82.5 116.5,81.4 114.5,80.9 112.5,81.9 110.2,86.5 107.5,89.4 106.5,88.9 104.5,86.5 104.5,85.5 103.5,84.5 103.5,72.5 104.5,71.5 104.5,68.5 106.5,66.5 106.5,65.5 108.5,63.5 108.5,62.5 111.5,59.5 111.5,57.5 112.5,56.5 112.5,51.5 110.5,49.5 107.9,52.1 106.5,51.0 103.5,50.5 104.5,48.4 106.5,48.8 107.3,47.5 106.5,46.3 100.3,48.5 99.5,48.5 98.5,47.5 97.5,47.5 90.5,40.5 90.5,39.5 87.5,36.5 84.5,36.5ZM113.5,66.4 112.6,67.5 112.5,69.5 113.5,71.2 114.5,71.2 115.5,70.2 116.1,68.5 115.5,67.0 114.5,66.4ZM140.5,63.1 138.6,65.5 138.6,69.5 141.5,71.5 142.5,71.5 145.6,69.5 145.3,66.5 146.5,64.5 145.5,63.4 141.5,62.7ZM149.5,138.4 146.5,139.1 144.5,140.7 142.5,139.6 137.5,139.6 136.9,140.5 137.6,141.5 136.1,142.5 137.8,146.5 137.7,149.5 137.5,150.4 136.0,150.5 136.1,151.5 137.5,151.5 138.5,153.0 140.5,152.9 141.0,153.5 141.7,154.5 141.1,156.5 141.5,157.3 143.6,157.5 145.1,159.5 145.5,162.3 147.5,160.1 148.5,159.8 149.5,160.6 151.5,160.2 153.4,162.5 153.1,164.5 153.5,164.6 153.7,162.5 155.0,161.5 155.3,159.5 154.5,157.5 156.1,155.5 156.1,154.5 154.6,152.5 155.5,151.5 157.5,151.9 158.1,151.5 158.3,150.5 155.4,147.5 155.1,142.5 150.0,140.5 150.7,139.5ZM201.5,78.4 199.5,78.8 198.5,79.7 196.5,79.5 195.5,79.9 192.5,80.0 189.5,81.0 184.7,85.5 185.5,85.6 186.0,86.5 186.0,87.5 184.7,88.5 185.4,89.5 186.5,88.9 187.5,90.4 187.3,91.5 189.5,92.9 190.9,95.5 192.5,96.0 195.5,98.2 196.5,97.8 198.5,95.8 200.5,95.1 201.6,93.5 204.5,92.5 204.2,91.5 205.6,90.5 206.5,88.5 205.5,87.8 205.4,86.5 206.7,84.5 206.7,83.5 204.5,82.8 203.0,81.5 202.5,78.9ZM107.5,90.5 107.5,89.8 108.5,90.1 109.8,91.5 110.2,92.5 109.2,93.5 109.5,94.7 108.5,93.5 108.6,91.5ZM140.3,150.5 140.5,149.6 141.0,150.5 140.5,151.2ZM150.5,156.5 151.5,155.8 151.9,156.5 151.5,157.5 150.5,157.8Z"/>
<path fill="#e26d57" fill-rule="evenodd" d="M84.5,30.5 102.5,30.5 102.5,34.5 101.5,35.5 101.5,37.5 100.5,38.5 100.5,41.5 101.5,42.5 103.5,42.5 104.5,43.5 105.5,43.5 108.5,41.5 111.5,41.5 113.5,43.5 119.5,37.5 120.5,37.5 121.5,36.5 123.5,36.5 124.5,35.5 125.5,35.5 128.5,33.5 130.5,35.5 131.5,35.5 132.5,34.5 134.5,34.5 138.5,38.5 140.5,38.5 141.5,39.5 150.5,39.5 151.5,38.5 152.5,38.5 156.5,42.5 156.5,44.5 157.5,45.5 158.5,45.5 163.5,50.5 166.5,50.5 167.5,51.5 170.5,51.5 171.5,52.5 172.5,52.5 173.5,53.5 174.5,53.5 180.5,59.5 180.5,60.5 181.5,61.5 181.5,63.5 182.5,64.5 182.5,66.5 183.5,67.5 185.5,67.5 186.5,68.5 188.5,68.5 189.5,69.5 190.5,69.5 193.5,71.5 195.5,71.5 196.5,72.5 198.5,72.5 199.5,73.5 203.5,73.5 204.5,74.5 205.5,74.5 206.5,75.5 207.5,75.5 208.5,76.5 209.5,76.5 210.5,77.5 211.5,77.5 218.5,84.5 218.5,86.5 219.5,87.5 219.5,88.5 218.5,89.5 218.5,91.5 216.5,93.5 216.5,94.5 215.8,95.2 215.5,94.3 214.5,93.8 213.5,94.5 212.9,96.5 213.5,98.5 211.5,100.5 211.5,101.5 209.5,104.5 209.5,107.5 208.5,108.5 208.5,113.5 207.5,114.5 207.5,118.5 206.5,119.5 206.5,120.5 205.5,121.5 205.5,122.5 204.5,123.5 204.5,124.5 200.7,128.3 199.5,127.4 199.2,128.5 199.5,129.3 199.9,129.1 198.5,130.5 197.5,130.5 196.5,131.5 194.5,131.5 193.5,132.5 191.5,132.5 189.5,134.5 188.5,134.5 187.5,135.5 187.5,136.5 186.5,137.5 186.5,139.5 185.5,140.5 185.5,141.5 184.5,142.5 184.5,143.5 182.5,145.5 182.5,146.5 179.5,149.5 179.5,150.5 169.5,160.5 168.5,160.5 165.5,163.5 165.5,166.5 161.5,170.5 160.5,170.5 158.5,172.5 156.5,172.5 155.5,173.5 154.5,173.5 153.5,174.5 152.5,174.5 146.5,180.5 146.5,183.5 145.5,184.5 145.5,185.5 141.5,189.5 142.5,190.5 142.5,191.5 144.5,193.5 144.5,196.5 139.5,201.5 138.5,201.5 137.5,202.5 137.5,204.5 138.5,205.5 139.5,205.5 140.5,206.5 142.5,206.5 143.5,207.5 144.5,207.5 147.5,210.5 142.5,215.5 132.5,215.5 131.5,214.5 130.5,214.5 129.5,213.5 128.5,213.5 124.5,209.5 124.5,208.5 119.5,203.5 119.5,202.5 117.5,199.5 117.5,188.5 118.5,187.5 118.5,183.5 119.5,182.5 119.5,180.5 120.5,179.5 120.5,176.5 121.5,175.5 121.5,169.5 122.5,168.5 122.5,164.5 123.5,163.5 123.5,160.5 125.5,157.5 125.5,150.5 126.5,149.5 126.5,143.5 127.5,142.5 127.5,138.5 128.5,137.5 128.5,127.5 129.5,126.5 129.5,123.5 128.5,122.5 128.5,119.5 127.5,118.5 127.5,117.5 126.5,116.5 126.5,115.5 125.5,114.5 124.5,114.5 122.5,112.5 121.5,112.5 115.5,106.5 115.5,105.5 114.5,104.5 114.5,102.7 115.5,102.3 118.2,99.5 120.3,98.5 121.7,96.5 121.6,95.5 119.5,91.5 120.5,87.5 119.5,85.1 118.3,84.5 118.2,82.5 116.5,80.5 113.5,80.7 111.7,82.5 109.4,86.5 107.5,88.1 106.0,88.0 104.5,86.5 104.5,85.5 103.5,84.5 103.5,72.5 104.5,71.5 104.5,68.5 106.5,66.5 106.5,65.5 108.5,63.5 108.5,62.5 111.5,59.5 111.5,57.5 112.5,56.5 112.5,51.5 110.5,49.5 108.5,51.5 107.3,50.5 107.2,49.5 108.4,47.5 107.5,46.1 106.5,45.8 99.8,47.5 99.4,48.4 98.5,47.5 97.5,47.5 94.7,44.7 95.1,44.5 94.5,43.9 94.2,44.2 90.5,40.5 90.5,39.5 87.5,36.5 84.5,36.5ZM113.5,66.2 112.5,67.1 112.2,68.5 113.5,71.9 115.5,70.8 116.4,68.5 115.5,66.6ZM133.5,85.3 132.7,85.5 133.5,85.7ZM135.5,74.1 135.0,74.5 135.5,75.2 136.0,74.5ZM141.5,62.5 139.7,63.5 137.9,65.5 138.0,69.5 141.5,72.7 142.5,72.6 146.4,69.5 145.6,67.5 146.8,64.5 146.3,63.5 145.5,63.2ZM150.5,73.4 149.5,75.5 149.5,76.5 150.5,76.8 152.8,75.5 153.1,74.5 151.5,73.2ZM158.5,79.4 157.7,79.5 157.4,80.5 158.5,81.3 159.4,80.5ZM160.5,84.2 160.1,84.5 160.5,84.8 160.9,84.5ZM163.5,149.4 163.5,150.0 164.4,150.5 166.5,150.9 167.8,150.5 166.5,149.3ZM197.5,78.0 195.5,79.5 192.5,79.7 189.5,80.6 186.5,83.1 185.2,83.5 183.2,85.5 183.8,86.5 182.7,88.5 185.5,90.4 186.5,90.3 186.5,92.5 188.5,93.2 189.5,94.0 190.5,96.0 192.5,96.6 195.5,99.1 196.5,99.1 198.7,96.5 200.5,95.9 202.5,94.1 204.5,93.4 205.4,91.5 208.0,89.5 208.0,88.5 206.9,86.5 207.3,83.5 206.6,82.5 204.5,82.5 203.4,81.5 203.2,79.5 202.5,78.2 198.5,77.8ZM127.5,157.0 127.0,157.5 127.5,157.8ZM135.5,78.9 134.9,79.5 136.6,79.5ZM141.5,76.3 141.5,76.8 142.8,76.5 142.5,76.0ZM144.5,137.5 144.5,139.0 138.5,138.9 136.4,139.5 134.1,142.5 136.6,145.5 137.1,148.5 136.5,149.4 133.5,151.0 133.3,151.5 134.5,152.3 136.5,152.5 137.2,153.5 140.2,154.5 140.6,157.5 142.5,159.6 143.5,159.1 143.9,159.5 143.2,161.5 144.5,162.9 146.5,162.6 147.5,161.3 148.5,161.0 149.5,161.8 151.5,161.2 152.1,162.5 151.9,164.5 152.5,165.2 153.5,165.4 154.5,165.3 155.5,162.3 156.5,162.2 156.8,163.5 157.5,163.8 159.0,163.5 156.5,160.7 155.9,158.5 155.1,157.5 155.5,156.6 156.9,155.5 156.5,153.4 158.5,152.5 160.5,153.4 161.5,153.0 162.4,151.5 161.5,150.7 159.5,151.5 159.1,150.5 160.8,149.5 160.3,148.5 159.5,148.1 157.5,148.9 156.9,148.5 155.9,146.5 156.1,143.5 155.5,142.1 152.1,140.5 151.0,138.5 149.8,137.5 148.5,137.2 147.5,137.6ZM145.5,76.7 145.1,77.5 145.5,78.1 146.5,78.3 146.5,77.1ZM151.5,78.3 150.9,79.5 151.5,80.2 152.5,80.0 152.9,78.5ZM164.5,160.3 164.0,161.5 164.5,162.5 165.7,160.5ZM188.5,108.1 188.1,108.5 188.5,109.6 190.2,109.5 191.2,108.5 190.5,108.1ZM195.5,115.3 194.8,115.5 195.5,116.2ZM201.5,121.8 201.5,123.0 201.9,122.5ZM140.5,188.4 140.1,189.5 140.5,190.3 140.9,189.5ZM160.5,164.3 161.5,164.8 161.7,164.5Z"/>
<path fill="#e87d62" fill-rule="evenodd" d="M84.5,30.5 102.5,30.5 102.5,34.5 101.5,35.5 101.5,37.5 100.5,38.5 100.5,41.5 101.7,42.5 101.3,43.5 104.1,43.1 105.5,43.5 108.5,41.5 111.5,41.5 113.5,43.5 119.5,37.5 120.7,37.3 120.9,38.5 122.5,39.2 123.5,39.2 125.5,38.3 126.2,36.5 125.5,35.8 123.5,37.0 122.2,36.5 123.5,36.5 124.5,35.5 125.5,35.5 128.5,33.5 130.5,35.5 131.5,35.5 132.5,34.5 134.5,34.5 138.5,38.5 140.5,38.5 141.5,39.5 150.5,39.5 151.5,38.5 152.5,38.5 156.5,42.5 156.5,44.5 157.5,45.5 158.5,45.5 163.5,50.5 166.5,50.5 167.5,51.5 170.5,51.5 171.5,52.5 172.5,52.5 173.5,53.5 174.5,53.5 180.5,59.5 180.5,60.5 181.5,61.5 181.5,63.5 182.5,64.5 182.5,66.5 183.5,67.5 185.5,67.5 186.5,68.5 188.5,68.5 189.5,69.5 190.5,69.5 193.5,71.5 195.5,71.5 196.5,72.5 198.5,72.5 199.5,73.5 203.5,73.5 204.5,74.5 205.5,74.5 206.5,75.5 207.5,75.5 208.5,76.5 209.5,76.5 210.5,77.5 211.5,77.5 218.5,84.5 218.5,86.5 219.5,87.5 219.5,88.5 218.5,89.5 218.5,91.5 216.5,93.5 215.5,92.5 214.5,92.7 213.5,93.6 212.0,97.5 213.2,98.8 211.5,100.5 209.9,100.5 210.6,102.4 210.5,103.5 209.5,104.5 209.5,107.5 208.5,108.5 208.5,113.5 207.5,114.5 207.2,118.5 206.5,119.8 205.5,120.4 204.5,120.1 203.5,120.4 201.9,117.5 201.6,114.5 200.5,114.5 199.4,115.5 198.9,116.5 200.4,117.5 200.8,118.5 199.5,118.9 198.3,117.5 198.1,116.5 193.2,112.5 192.8,109.5 193.8,108.5 193.9,107.5 191.5,107.0 191.0,106.5 192.3,104.5 192.2,100.5 191.0,99.5 190.5,97.9 189.5,97.6 188.8,98.5 189.8,100.5 190.0,101.5 189.2,103.5 190.7,105.5 190.3,106.5 189.5,107.4 188.5,107.3 186.5,108.2 185.5,107.9 184.9,108.5 187.5,109.1 188.5,110.4 190.7,110.5 190.3,113.5 193.3,115.5 193.1,116.5 191.9,117.5 191.9,119.5 191.2,120.5 191.5,120.9 192.5,120.7 193.5,119.8 195.5,119.5 198.9,120.5 199.9,121.5 200.0,122.5 199.5,123.3 198.3,123.5 198.3,124.5 199.4,125.5 198.5,127.5 199.0,130.0 198.5,130.5 197.5,130.5 196.5,131.5 194.5,131.5 193.5,132.5 191.5,132.5 189.5,134.5 188.5,134.5 186.5,137.5 186.5,139.5 185.5,140.5 185.5,141.5 184.5,142.5 184.5,143.5 182.5,145.5 182.5,146.5 179.5,149.5 179.5,150.5 169.5,160.5 168.5,160.5 168.0,161.0 167.2,160.5 167.4,161.6 165.7,163.3 165.3,162.5 166.5,160.5 165.8,159.5 164.3,159.5 162.5,162.7 161.5,162.0 159.5,162.8 158.5,162.1 157.3,159.5 157.5,158.8 158.6,158.5 158.5,158.1 157.5,158.4 155.9,157.5 157.5,156.3 158.5,157.2 159.0,156.5 159.2,155.5 158.1,154.5 158.5,153.3 160.5,154.5 162.2,153.5 163.5,151.4 167.5,151.8 169.5,152.7 169.2,151.5 167.5,149.2 162.5,149.0 159.5,147.1 157.5,148.3 156.5,146.5 156.7,143.5 155.5,141.4 152.9,140.5 151.8,138.5 149.5,136.6 146.5,136.2 142.5,137.4 141.5,138.6 139.5,138.4 136.5,138.9 135.5,140.3 132.3,142.5 132.5,143.5 134.5,144.1 135.5,144.9 136.6,147.5 136.5,148.5 132.5,150.4 132.2,151.5 134.5,153.7 139.1,154.5 141.4,160.5 143.5,163.2 144.5,163.7 145.5,163.5 148.5,161.8 148.6,163.5 149.5,164.0 150.5,163.0 151.5,163.5 151.1,164.5 151.9,165.5 154.5,166.2 156.5,164.2 159.5,164.7 160.5,165.9 161.5,166.2 163.5,164.0 164.8,164.5 165.3,166.5 161.5,170.5 160.5,170.5 158.5,172.5 157.1,172.5 157.6,171.5 156.5,170.9 155.2,171.5 154.8,172.5 155.2,173.5 154.5,173.5 153.5,174.5 152.5,174.5 151.2,175.8 150.5,175.9 149.5,175.0 148.5,175.2 148.3,176.5 149.4,177.6 146.5,180.5 146.5,183.5 145.5,184.5 145.5,185.5 142.0,189.0 141.5,188.0 140.5,187.8 139.2,189.5 139.5,191.2 141.5,193.1 142.1,192.5 141.1,191.5 142.2,190.2 142.5,190.5 142.5,191.5 144.5,193.5 144.5,196.5 139.5,201.5 138.5,201.5 137.5,202.5 137.5,204.5 140.5,206.5 142.5,206.5 143.5,207.5 144.5,207.5 147.5,210.5 142.5,215.5 132.5,215.5 131.5,214.5 130.5,214.5 129.5,213.5 128.5,213.5 124.5,209.5 124.5,208.5 119.5,203.5 119.5,202.5 117.5,199.5 117.5,188.5 118.5,187.5 118.5,183.5 119.5,182.5 119.5,180.5 120.5,179.5 120.5,176.5 121.5,175.5 121.5,169.5 122.5,168.5 122.5,164.5 123.5,163.5 123.7,160.3 125.5,157.3 125.9,159.5 126.5,159.8 128.5,160.1 129.6,159.5 129.4,158.5 127.5,155.9 125.5,155.8 125.5,155.0 126.6,154.5 126.7,153.5 125.5,152.8 125.5,150.8 128.0,148.5 126.5,148.5 126.5,143.5 127.5,142.5 127.5,138.5 128.5,137.5 128.5,127.5 129.5,126.5 129.5,123.5 128.5,122.5 128.5,119.5 127.5,118.5 127.5,117.5 126.5,116.5 126.5,115.5 125.5,114.5 124.5,114.5 122.5,112.5 121.5,112.5 115.5,106.5 115.5,105.5 114.5,104.5 114.5,102.9 120.5,98.9 122.2,96.5 122.1,95.5 120.2,92.5 120.0,91.5 121.2,88.5 121.2,87.5 119.9,84.5 118.9,83.5 118.5,81.5 116.5,79.8 113.5,80.2 108.5,86.6 106.5,85.5 105.5,86.0 105.5,87.5 103.5,84.5 103.5,84.0 104.5,84.2 105.5,85.2 106.5,85.2 106.5,83.3 104.5,82.2 103.5,82.9 103.5,72.5 104.5,71.5 104.5,68.5 106.5,66.5 106.5,65.5 108.5,63.5 108.5,62.5 111.5,59.5 111.5,57.5 112.5,56.5 112.5,51.5 110.5,49.5 109.0,51.0 108.7,50.5 109.7,49.5 109.8,48.5 107.7,45.5 108.9,44.5 108.7,43.5 109.1,42.5 108.5,42.1 107.4,44.5 105.8,45.5 102.5,45.9 101.5,46.5 100.4,46.5 100.7,45.5 100.0,44.5 100.4,43.5 99.5,40.9 98.5,40.9 97.9,41.5 97.5,43.2 94.5,43.0 93.6,43.6 90.5,40.5 90.5,39.5 87.5,36.5 84.5,36.5ZM113.5,66.0 112.5,66.5 112.0,68.5 113.5,72.8 115.5,71.2 116.6,68.5 115.5,66.3ZM122.5,60.2 121.5,60.7 120.5,62.1 118.5,61.2 118.3,62.5 119.7,63.5 121.5,63.8 122.5,62.8 123.4,60.5ZM141.5,62.3 139.3,63.5 137.5,65.1 137.2,66.5 135.7,67.5 135.7,68.5 137.4,69.5 137.0,72.5 134.9,73.5 134.2,74.5 135.1,76.5 133.2,79.5 134.4,80.5 138.5,81.5 139.5,79.5 140.5,79.1 142.5,80.1 144.5,79.2 145.3,79.5 144.5,80.5 145.5,80.5 145.7,79.5 147.5,78.5 147.0,76.5 145.5,74.1 144.5,75.0 143.1,74.5 142.8,73.5 147.3,69.5 146.4,67.5 147.0,64.5 146.6,63.5ZM148.5,79.5 147.8,80.5 148.5,80.9 149.1,80.5ZM149.5,69.2 148.7,69.5 149.5,72.0 149.8,70.5ZM151.5,71.4 151.0,72.5 149.7,73.5 148.8,76.5 149.5,77.5 150.5,77.6 150.7,78.5 150.0,79.5 150.3,80.5 151.5,80.9 152.7,80.5 153.9,78.5 151.9,77.5 152.0,76.5 153.4,75.5 153.7,74.5 151.6,72.5ZM157.5,79.1 156.9,79.5 156.9,81.5 155.5,81.2 154.7,82.5 157.5,84.3 158.5,84.2 160.7,85.5 161.8,84.5 162.7,81.5 162.5,81.0 161.7,81.5 161.4,82.5 159.5,83.3 158.4,82.5 160.7,81.5 159.2,79.5ZM164.5,78.0 163.9,78.5 163.8,79.5 165.5,79.9 166.1,79.5 166.1,78.5 165.5,77.5ZM166.5,75.4 165.5,75.9 165.5,77.4 167.1,76.5ZM168.5,79.0 168.0,79.5 168.5,80.4 170.1,79.5 169.5,78.9ZM170.5,153.0 169.8,153.5 170.0,154.5 171.5,155.0 172.0,154.5ZM198.5,77.1 195.5,79.2 189.5,80.2 186.5,82.7 184.5,83.3 182.5,85.3 180.5,84.5 179.5,85.1 179.1,86.5 179.5,87.3 180.5,87.7 181.5,86.8 181.6,88.5 180.9,89.5 181.5,90.8 183.5,90.1 184.5,90.5 184.5,91.5 185.5,93.5 187.5,93.4 189.1,94.5 190.5,97.3 192.5,97.1 195.1,99.5 196.5,102.2 198.5,103.0 198.9,102.5 197.7,101.5 197.5,99.5 198.4,97.5 199.5,96.6 200.5,96.5 201.5,96.8 203.1,98.5 205.5,97.7 205.9,96.5 205.5,95.9 203.5,95.9 203.1,95.5 203.6,94.5 205.2,93.5 206.3,91.5 208.7,89.5 208.2,86.5 207.6,85.5 207.7,83.5 207.3,82.5 206.5,82.0 204.5,82.1 203.8,81.5 203.5,79.5 202.5,77.7ZM212.5,89.2 212.2,89.5 212.5,90.9 213.5,91.0 214.3,90.5 214.4,89.5 213.5,89.0ZM216.5,88.4 216.1,89.5 216.5,90.2 219.4,88.5 218.5,88.0ZM187.5,111.0 186.9,111.5 187.5,111.8 187.9,111.5ZM160.5,156.4 159.9,157.5 161.5,159.1 163.9,156.5ZM168.5,156.7 167.6,157.5 169.5,158.4 170.0,157.5ZM133.5,191.3 132.7,192.5 134.5,192.9 135.5,193.8 135.9,193.5 135.8,192.5 134.6,191.5ZM138.5,164.1 137.8,164.5 138.5,165.5 139.5,164.5ZM139.5,172.4 140.5,173.1 141.1,172.5 140.5,172.1ZM143.5,182.1 143.5,182.9 144.0,182.5ZM145.5,170.3 144.9,170.5 145.5,171.0 146.1,170.5ZM123.5,170.4 122.3,171.5 123.5,172.1 124.5,171.5ZM128.5,161.3 128.5,162.7 129.3,162.5ZM104.5,80.4 104.1,80.5 104.5,80.9 105.5,80.5ZM133.5,83.4 130.2,84.5 129.5,86.1 128.8,86.5 129.2,87.5 129.5,87.7 130.5,86.7 132.5,87.4 135.3,85.5 134.9,84.5ZM139.5,82.0 138.8,84.5 136.7,86.5 137.5,87.5 138.5,87.8 139.6,87.5 139.2,85.5 141.5,83.8 142.9,83.5 142.5,82.0ZM179.5,107.5 178.2,110.5 178.5,111.3 179.5,111.3 180.6,110.5 180.9,108.5ZM181.5,98.4 181.5,99.8 181.9,99.5ZM182.5,107.7 182.1,108.5 183.5,109.3 183.9,108.5ZM184.5,110.0 183.9,110.5 184.0,111.5 184.5,111.9 186.0,111.5ZM185.5,95.5 186.5,97.4 186.9,95.5 186.5,95.1ZM196.5,109.2 195.9,109.5 195.6,110.5 196.5,111.2 197.5,110.5ZM205.5,114.4 204.0,116.5 205.8,116.5 205.9,114.5ZM206.5,98.4 206.1,99.5 206.5,100.1 207.5,100.7 208.5,100.5 208.6,99.5ZM187.5,114.3 186.8,114.5 187.0,115.5 189.3,115.5ZM128.5,154.1 128.1,154.5 129.5,155.5 130.5,154.5 129.5,153.7ZM129.5,149.6 128.8,150.5 129.5,152.1 130.3,151.5ZM131.5,147.7 130.7,148.5 131.5,149.1 132.1,148.5ZM183.5,114.4 182.7,115.5 182.9,116.5 183.5,117.0 184.5,116.9 185.5,118.2 186.5,118.5 187.5,119.5 188.5,122.0 189.5,121.4 189.8,122.5 190.5,122.8 191.0,121.5 189.5,120.2 187.5,119.5 186.5,115.7 185.5,116.0 184.8,115.5 184.7,114.5ZM131.5,155.4 130.5,156.1 130.5,156.7 131.5,156.2ZM95.5,45.5 95.2,45.2 95.5,44.9 96.9,45.5 96.6,46.6ZM138.3,71.5 139.6,71.5 142.3,74.5 141.3,75.5 140.5,77.9 138.5,77.4 137.5,78.3 136.5,78.2 136.1,76.5ZM216.2,94.5 216.5,93.5 216.5,94.5ZM193.8,117.5 194.5,117.1 196.1,117.5 195.5,118.4 193.5,118.5ZM205.4,121.5 205.5,120.8 205.8,121.2 205.5,122.5 204.5,123.5 204.5,124.5 203.1,125.9 203.9,123.5ZM199.6,124.5 200.5,123.9 201.3,124.5 200.5,125.0Z"/>
<path fill="#ef8d6e" fill-rule="evenodd" d="M84.5,30.5 102.5,30.5 102.5,34.5 101.5,35.5 101.5,37.5 100.5,38.5 100.5,40.0 97.6,40.5 97.2,42.5 96.5,42.9 94.5,42.4 93.1,43.1 90.5,40.5 90.5,39.5 87.5,36.5 84.5,36.5ZM127.5,34.5 128.5,33.5 130.5,35.5 131.5,35.5 132.5,34.5 134.5,34.5 138.5,38.5 140.5,38.5 141.5,39.5 150.5,39.5 151.5,38.5 152.5,38.5 156.5,42.5 156.5,44.5 157.5,45.5 158.5,45.5 163.5,50.5 166.5,50.5 167.5,51.5 170.5,51.5 171.5,52.5 172.5,52.5 173.5,53.5 174.5,53.5 180.5,59.5 180.5,60.5 181.5,61.5 181.5,63.5 182.5,64.5 182.5,66.5 183.5,67.5 185.5,67.5 186.5,68.5 188.5,68.5 189.5,69.5 190.5,69.5 193.5,71.5 195.5,71.5 196.5,72.5 198.5,72.5 199.5,73.5 203.5,73.5 204.5,74.5 205.5,74.5 206.5,75.5 207.5,75.5 208.5,76.5 209.5,76.5 210.5,77.5 211.5,77.5 218.5,84.5 218.5,86.5 219.5,88.0 218.5,87.2 216.5,87.5 215.5,88.4 212.5,87.9 211.5,89.2 212.7,93.5 212.6,94.5 210.8,97.5 212.7,99.3 212.2,99.8 209.8,99.5 207.5,98.5 206.8,97.5 206.5,96.0 205.5,94.5 205.9,93.5 210.4,87.5 208.4,85.5 207.5,82.2 206.5,81.6 204.5,81.8 204.1,81.5 203.4,78.5 202.5,76.8 201.1,75.5 198.5,76.3 195.5,78.9 189.5,79.8 186.5,82.4 184.5,82.9 182.5,84.4 178.5,83.9 177.6,84.5 178.4,85.5 177.3,88.5 178.3,89.5 178.2,90.5 177.2,91.5 177.5,92.0 178.5,92.3 179.5,92.0 180.2,92.5 179.5,92.9 178.5,94.8 176.8,95.5 176.8,96.5 177.5,97.4 178.5,96.1 180.5,95.4 182.5,92.2 183.5,92.3 185.4,94.5 184.5,95.5 185.5,97.4 186.5,98.0 187.5,97.9 189.1,100.5 188.4,103.5 189.7,105.5 189.5,106.5 185.5,106.8 184.5,107.8 182.5,106.7 181.5,107.7 179.5,106.7 178.2,107.5 176.6,110.5 176.6,111.5 177.5,112.2 179.5,112.7 181.4,111.5 181.3,109.5 181.5,109.1 182.0,109.5 183.0,111.5 184.3,112.5 183.8,113.5 181.0,114.5 181.2,116.5 184.5,118.3 183.5,119.5 186.5,119.8 189.4,124.5 190.5,125.1 191.0,122.5 193.5,120.6 195.5,120.3 198.3,121.5 198.4,122.5 197.5,124.5 198.3,125.5 198.0,127.5 198.5,130.5 197.5,130.5 196.5,131.5 194.5,131.5 193.5,132.5 191.5,132.5 189.5,134.5 188.5,134.5 187.5,135.5 187.5,136.5 186.5,137.5 186.5,139.5 185.5,140.5 185.5,141.5 184.5,142.5 184.5,143.5 182.5,145.5 182.5,146.5 179.5,149.5 179.5,150.5 173.3,156.7 173.0,155.5 175.4,154.5 174.5,151.4 173.4,151.5 173.3,152.5 172.5,153.1 171.6,152.5 171.6,151.5 170.5,151.7 167.5,148.6 160.5,147.6 159.5,145.8 156.5,142.6 155.5,140.0 154.5,139.7 153.5,140.3 152.5,139.5 152.6,138.5 151.0,136.5 148.5,136.1 147.5,135.4 146.5,135.4 144.5,136.2 142.5,136.1 141.6,136.5 141.4,137.5 140.5,138.0 136.2,138.5 135.5,139.6 131.7,142.5 131.7,143.5 132.5,144.4 135.0,145.5 134.1,146.5 134.3,147.5 135.2,148.5 133.5,148.9 133.1,148.5 132.5,146.1 130.5,147.3 129.5,147.1 128.5,146.0 127.1,146.5 126.5,147.5 126.5,143.5 127.5,142.5 127.5,138.5 128.5,137.5 128.5,129.3 129.5,129.4 132.5,128.2 133.0,127.5 132.5,126.5 131.5,126.9 129.5,126.1 129.5,123.5 128.5,122.5 128.5,119.5 127.5,118.5 127.5,117.5 126.5,116.5 126.5,115.5 125.5,114.5 124.5,114.5 122.5,112.5 121.5,112.5 115.5,106.5 115.5,105.5 114.5,104.5 114.5,103.2 119.5,100.3 122.1,97.5 122.7,96.5 122.5,95.5 120.6,92.5 120.6,91.5 124.0,88.5 121.5,86.9 119.2,82.5 118.7,80.5 116.5,78.7 115.5,79.6 113.5,79.2 110.5,83.5 108.5,84.9 107.5,85.1 107.1,83.5 107.5,81.4 105.5,79.6 103.5,79.6 103.5,72.5 104.5,71.5 104.5,68.5 106.5,66.5 106.5,65.5 108.5,63.5 108.5,62.5 111.5,59.5 111.5,57.5 112.5,56.5 112.5,51.5 110.5,49.5 109.4,50.5 110.3,49.5 110.3,48.5 109.2,46.5 109.2,45.5 110.1,44.5 109.8,43.5 110.5,42.0 111.8,41.8 113.5,43.5 117.2,39.8 117.5,40.5 119.5,39.7 125.5,39.6 126.5,38.2 127.0,36.5 127.1,35.5 126.5,34.5ZM140.5,62.4 137.5,64.4 136.5,66.5 134.8,67.5 134.2,68.5 136.5,69.5 135.5,72.5 134.5,72.7 133.9,73.5 134.3,76.5 132.4,79.5 133.5,81.2 134.5,81.8 135.5,81.1 137.4,81.5 137.9,82.5 136.7,83.5 137.7,84.5 136.5,84.7 133.5,82.3 132.5,83.1 130.5,83.5 129.5,84.4 127.5,84.9 127.2,85.5 128.2,87.5 129.3,88.5 131.5,87.7 132.8,88.5 133.5,88.2 134.5,86.6 135.5,86.3 137.5,88.3 138.5,88.6 139.5,88.3 140.5,85.5 143.5,84.0 143.8,82.5 144.5,81.8 145.9,81.5 146.5,80.6 147.5,82.1 150.5,81.1 152.8,82.5 152.0,83.5 152.5,83.8 155.5,83.9 156.5,84.7 160.5,86.0 161.6,85.5 162.9,83.5 163.5,81.2 164.4,80.5 166.5,80.6 168.5,81.9 171.3,80.5 169.8,77.5 170.1,75.5 169.5,74.7 164.7,75.5 164.5,77.1 162.5,77.6 160.5,79.8 158.5,78.8 156.5,78.4 155.5,77.0 153.5,77.7 153.1,77.5 152.8,76.5 154.0,75.5 154.2,74.5 152.4,72.5 152.9,71.5 152.5,70.6 150.5,69.9 149.5,68.2 147.5,68.3 146.8,66.5 147.2,64.5 146.8,63.5 144.5,62.6ZM141.5,39.7 140.7,41.5 141.5,42.4 142.1,41.5 142.2,40.5ZM162.5,75.2 161.7,76.5 162.5,77.4 164.2,75.5ZM181.5,97.8 180.9,98.5 181.5,100.4 182.7,99.5 182.8,98.5ZM112.5,66.2 111.8,68.5 112.5,72.5 113.5,74.2 114.5,74.4 116.9,68.5 115.5,66.0 114.5,65.7ZM121.5,60.1 120.5,60.9 118.5,60.6 117.7,61.5 117.6,62.5 119.5,64.4 120.5,64.6 122.5,63.7 123.6,61.5 124.8,60.5 122.5,59.6ZM125.5,108.4 128.2,110.5 128.5,111.2 129.5,111.4 130.5,110.5 130.5,108.4 127.5,107.9ZM133.5,116.7 132.7,118.5 133.5,119.0 134.4,118.5ZM169.5,83.3 168.1,84.5 168.5,85.1 170.2,84.5ZM124.5,84.3 123.5,85.7 125.2,85.5ZM133.5,120.9 132.7,121.5 133.5,122.1 134.5,121.6ZM118.5,38.5 119.1,37.9 119.6,38.5 118.5,39.3 118.0,39.0ZM105.9,43.1 107.0,42.5 106.5,43.2ZM102.1,44.5 105.5,43.7 106.0,44.5 103.5,45.5ZM146.1,71.5 146.5,70.9 147.5,71.1 147.7,72.5 149.0,73.5 148.5,75.1 147.5,75.5 145.9,73.5ZM137.8,74.5 138.5,73.6 141.3,74.5 140.2,76.5 137.5,77.3 137.0,76.5ZM167.2,77.5 168.3,77.5 167.5,78.7ZM154.3,79.5 155.8,79.5 154.5,79.9ZM153.2,81.5 153.6,81.5 153.5,81.9ZM179.5,89.5 179.5,90.9 179.1,90.5ZM188.1,95.5 188.5,95.1 189.0,95.5 189.0,96.5 188.5,97.3 187.7,96.5ZM191.6,98.5 192.5,97.9 193.5,98.5 195.4,101.5 194.4,104.5 195.5,106.3 199.5,103.2 199.5,102.2 198.2,100.5 200.5,98.3 203.5,99.1 204.5,98.8 206.5,100.9 209.1,102.5 208.6,103.5 209.5,103.9 210.5,103.3 209.5,104.5 209.5,107.5 208.5,108.5 208.5,113.5 207.5,114.5 207.5,116.1 206.8,115.5 207.4,114.5 205.5,113.7 203.8,114.5 203.5,115.1 201.5,113.2 200.4,113.5 198.5,115.1 197.5,115.1 196.8,114.5 196.1,113.5 196.5,112.8 197.5,112.1 199.5,112.0 199.5,110.7 198.5,110.1 197.5,108.6 195.5,108.9 194.5,106.9 192.4,106.5 193.3,104.5 193.3,100.5 191.9,99.5ZM189.4,111.5 189.8,112.5 189.5,113.5 188.5,113.7 188.2,112.5ZM194.1,111.5 194.5,110.9 194.7,111.5ZM189.2,116.5 190.5,116.5 190.6,117.5 189.5,118.7 188.5,118.3 187.9,117.5ZM204.5,117.5 205.5,117.1 206.4,117.5 206.6,118.5 205.5,119.4 204.5,119.2 203.8,118.5ZM157.3,146.5 157.5,145.9 157.8,147.5 157.5,147.6ZM127.0,152.5 127.5,151.6 128.0,152.5 127.5,153.6ZM130.7,153.5 131.5,153.0 134.5,154.2 138.5,154.9 139.3,156.5 138.5,157.6 137.5,156.9 136.8,157.5 137.1,158.5 138.1,159.5 138.5,160.8 140.5,159.9 142.5,162.5 143.5,164.7 146.5,164.0 148.5,165.5 148.5,166.5 152.8,166.5 151.5,167.1 151.0,168.5 152.2,170.5 152.0,172.5 152.5,173.2 154.2,173.8 153.5,174.5 150.5,175.1 149.5,174.1 148.5,174.2 147.5,175.4 146.7,174.5 146.5,173.2 143.6,175.5 143.7,176.5 144.5,177.1 146.5,175.8 148.5,178.5 147.5,178.9 146.5,178.1 145.5,178.2 145.3,180.5 142.9,181.5 142.5,183.5 144.3,184.5 144.0,187.0 143.3,187.7 141.5,186.7 139.5,188.0 138.8,189.5 138.9,191.5 138.5,192.1 133.5,190.9 131.9,192.5 132.5,193.6 133.5,193.5 135.5,194.7 137.5,193.1 139.5,195.1 141.5,195.1 142.5,196.8 143.5,197.3 144.0,197.0 139.5,201.5 138.5,201.5 137.5,202.5 137.5,204.5 138.5,205.5 139.5,205.5 140.5,206.5 142.5,206.5 143.5,207.5 144.5,207.5 147.5,210.5 142.5,215.5 132.5,215.5 131.5,214.5 130.5,214.5 129.5,213.5 128.5,213.5 124.5,209.5 124.5,208.5 119.5,203.5 119.5,202.5 117.5,199.5 117.5,188.5 118.5,187.5 118.5,183.5 119.5,182.5 119.5,180.5 120.5,179.5 120.5,176.5 121.5,175.5 121.5,174.9 122.6,175.5 122.5,173.6 121.5,173.5 121.5,173.0 122.5,173.4 124.6,172.5 125.5,169.9 126.5,170.0 126.7,171.5 127.5,172.5 128.6,170.5 128.7,169.5 129.5,168.5 128.5,168.3 127.5,168.7 126.5,167.0 125.5,167.1 124.5,169.2 121.5,170.1 121.5,169.5 122.5,168.5 122.5,164.5 123.2,163.8 125.5,164.6 126.2,163.5 124.3,162.5 124.8,160.5 125.5,160.0 127.4,161.5 127.1,164.5 127.5,165.3 128.5,165.2 129.4,163.5 131.1,162.5 131.6,161.5 130.9,160.5 130.7,158.5 132.6,155.5 132.2,154.5ZM137.5,163.9 137.0,164.5 137.5,166.3 139.5,165.9 141.3,167.5 141.0,168.5 141.5,169.4 143.5,168.7 143.8,171.5 144.5,172.3 145.5,172.5 148.5,170.5 149.0,169.5 148.5,169.1 146.5,169.0 145.5,169.4 143.5,166.0 142.5,166.7 140.5,164.2 139.5,163.6ZM134.5,195.8 134.0,196.5 134.5,197.2 135.5,198.6 136.3,198.5 136.6,197.5ZM138.5,199.2 138.5,199.6 139.6,199.5ZM138.5,170.2 137.2,171.5 139.5,173.7 142.8,174.5 142.9,173.5 141.5,171.8ZM137.5,183.0 137.0,183.5 137.5,184.3ZM164.3,153.5 164.5,152.5 165.3,154.5 165.0,155.5 164.5,155.9 162.3,155.5 162.2,154.5ZM167.1,153.5 167.5,152.9 168.6,153.5 168.5,155.4 167.5,155.2ZM168.6,155.5 169.5,155.2 170.5,155.5 170.8,156.5ZM166.4,156.5 166.6,157.5 165.9,158.5 163.5,158.8 163.5,158.4 164.5,158.4 165.5,156.9ZM158.8,159.5 159.5,158.8 160.7,159.5 161.2,160.5 159.5,162.0 158.9,161.5ZM148.5,165.5 149.5,165.3 149.5,166.0ZM156.0,165.5 157.5,165.0 159.5,165.5 160.1,166.5 159.7,167.5 160.5,168.7 162.0,168.5 162.5,166.4 163.0,166.5 163.0,167.5 163.7,168.3 161.7,170.3 160.5,170.3 159.5,169.5 158.4,167.5 157.5,167.0 156.5,168.0 155.9,167.5 155.3,166.5ZM154.9,169.5 155.5,168.8 155.9,169.5ZM146.2,181.5 146.5,181.2 146.5,181.6ZM144.9,184.5 145.6,184.4 145.0,186.0ZM143.2,192.2 144.5,193.5 144.5,195.4 143.4,194.5Z"/>
<path fill="#f4a07f" fill-rule="evenodd" d="M84.5,30.5 102.5,30.5 102.5,34.5 101.5,35.5 101.5,37.1 100.5,39.0 99.5,39.5 96.5,39.4 96.8,40.5 96.5,42.2 94.5,41.9 92.6,42.6 90.5,40.5 90.5,39.5 87.5,36.5 84.5,36.5ZM127.5,34.5 128.5,33.5 130.5,35.5 131.5,35.5 132.5,34.5 134.5,34.5 138.5,38.5 140.6,38.6 140.1,41.5 141.5,43.2 142.8,42.5 142.8,40.5 142.1,39.5 150.5,39.5 151.5,38.5 152.5,38.5 156.5,42.5 156.5,44.5 157.5,45.5 158.5,45.5 163.5,50.5 166.5,50.5 167.5,51.5 170.5,51.5 171.5,52.5 172.5,52.5 173.5,53.5 174.5,53.5 180.5,59.5 180.5,60.5 181.5,61.5 181.5,63.5 182.5,64.5 182.5,66.5 183.5,67.5 185.5,67.5 186.5,68.5 188.5,68.5 189.5,69.5 190.5,69.5 193.5,71.5 195.5,71.5 196.5,72.5 198.5,72.5 199.5,73.5 201.4,73.5 199.5,75.2 197.9,75.5 196.8,77.5 195.5,78.7 189.5,79.4 186.5,82.0 184.5,82.5 182.5,83.8 175.5,82.7 173.7,83.5 172.8,85.5 174.0,86.5 174.5,89.5 175.5,88.5 176.5,88.6 177.1,89.5 176.4,91.5 177.1,92.5 177.0,94.5 175.8,96.5 176.5,98.6 178.6,98.5 182.5,93.7 183.5,93.4 184.4,94.5 183.6,95.5 185.4,98.5 187.5,99.0 188.4,100.5 187.5,104.8 184.5,106.9 182.5,106.1 178.3,106.5 176.8,107.5 176.6,109.5 174.8,111.5 177.5,113.4 178.9,113.5 180.5,116.9 182.6,118.5 182.6,119.5 185.5,121.6 186.5,121.4 188.4,124.5 190.5,126.2 191.2,125.5 191.5,122.5 193.5,121.0 195.5,121.0 197.7,122.5 196.6,124.5 197.3,125.5 197.6,128.5 196.6,130.5 196.9,131.1 196.5,131.5 194.5,131.5 193.5,132.5 191.5,132.5 189.5,134.5 188.5,134.5 187.5,135.5 187.5,136.5 186.5,137.5 186.5,139.5 185.5,140.5 185.5,141.5 184.5,142.5 184.5,143.5 182.5,145.5 182.5,146.5 179.5,149.5 179.5,150.5 176.1,153.9 175.9,152.5 174.5,150.5 173.5,149.9 172.5,149.8 170.5,150.7 167.5,148.1 164.5,147.8 162.5,146.5 161.5,147.5 160.4,146.5 160.4,145.5 162.5,146.5 163.0,145.5 162.5,144.4 159.5,142.7 157.5,143.1 156.4,141.5 156.4,140.5 155.5,138.7 154.5,137.8 151.5,136.0 148.5,135.6 147.5,135.0 143.5,135.9 140.5,135.4 139.5,137.3 135.5,138.0 134.7,139.5 133.5,139.7 132.5,140.7 131.1,142.5 131.2,145.5 130.7,146.5 128.5,145.3 126.5,146.0 126.5,143.5 127.5,142.5 127.5,138.5 128.5,137.5 128.5,130.6 130.5,129.8 133.5,130.4 134.5,130.1 134.8,129.5 133.9,128.5 134.8,127.5 134.7,126.5 129.5,125.1 129.5,123.5 128.5,122.5 128.5,119.5 127.5,118.5 127.5,117.5 126.5,116.5 126.5,115.5 125.5,114.5 124.5,114.5 122.5,112.5 121.5,112.5 115.5,106.5 115.5,105.5 114.5,104.5 114.5,103.4 118.5,101.8 122.8,97.5 123.1,95.5 122.3,93.5 121.1,92.5 121.5,91.5 125.3,88.5 124.0,87.5 124.3,86.5 126.5,86.6 128.0,88.5 129.5,89.1 131.5,88.5 132.6,89.5 133.5,89.2 134.5,87.5 135.5,87.2 136.8,88.5 138.5,89.1 139.7,88.5 141.5,86.0 143.5,84.8 144.5,83.0 145.5,82.7 147.5,83.4 149.5,82.0 150.5,81.8 151.0,82.5 150.9,83.5 151.7,84.5 155.5,84.8 160.5,86.4 163.0,84.5 164.5,81.4 166.5,82.2 167.6,83.5 167.5,84.8 168.5,85.8 169.9,85.5 172.5,83.5 172.6,82.5 170.8,77.5 170.6,76.5 171.1,75.5 169.5,74.2 164.5,75.0 163.5,74.5 162.5,74.7 161.4,75.5 159.5,78.1 158.5,78.4 156.5,77.7 155.5,76.2 153.5,76.6 155.5,73.7 155.2,72.5 154.5,72.2 153.5,72.7 153.6,71.5 153.1,70.5 151.1,69.5 149.6,67.5 147.5,67.0 147.4,64.5 146.5,63.0 141.5,62.1 139.9,62.5 137.5,63.9 135.8,66.5 133.5,67.8 133.5,68.9 135.4,69.5 135.7,70.5 135.3,71.5 134.5,71.9 133.5,71.1 133.3,71.5 133.4,76.5 132.5,77.6 132.0,79.5 133.0,81.5 132.5,82.5 128.5,83.5 127.5,83.1 124.5,83.3 121.5,86.1 120.6,83.5 119.8,82.5 119.6,80.5 116.6,76.5 116.5,75.7 115.5,77.4 113.5,77.6 112.7,78.5 111.5,81.5 109.5,83.9 108.5,84.1 107.8,83.5 108.2,81.5 107.9,80.5 105.5,79.0 103.5,78.8 103.5,72.5 104.5,71.5 104.5,68.5 106.5,66.5 106.5,65.5 108.5,63.5 108.5,62.5 111.5,59.5 111.5,57.5 112.5,56.5 112.5,51.5 110.7,49.7 110.0,46.5 111.0,44.5 110.7,43.5 112.0,42.0 113.5,43.5 116.5,40.5 117.5,41.3 121.5,40.2 125.5,40.2 126.5,39.6 127.0,38.5 127.6,36.5ZM181.5,97.0 180.2,98.5 181.5,100.9 183.9,99.5 182.8,97.5ZM124.5,102.4 123.2,104.5 123.3,108.5 127.3,110.5 127.3,113.5 128.2,114.5 129.0,114.5 129.5,113.5 129.2,112.5 130.9,110.5 131.2,108.5 126.5,106.6 125.2,105.5 124.6,104.5 125.7,103.5 125.7,102.5ZM132.5,115.2 131.8,115.5 132.6,120.5 131.9,122.5 132.5,123.2 134.5,123.1 135.6,122.5 134.1,119.5 134.8,118.5 134.8,117.5 133.7,115.5ZM112.5,65.9 111.7,67.5 111.8,69.5 112.2,72.5 113.5,75.6 115.5,75.1 115.9,74.5 115.6,72.5 117.2,68.5 116.5,66.5 115.5,65.7ZM122.5,59.3 120.5,60.2 118.5,60.1 117.5,61.0 117.1,62.5 118.0,64.5 120.5,65.1 121.5,64.7 123.1,63.5 124.5,61.1 126.0,60.5ZM147.2,73.5 147.8,73.5 147.9,74.5 147.4,74.5ZM202.4,74.5 203.6,73.6 206.5,75.5 207.5,75.5 208.5,76.5 209.5,76.5 210.5,77.5 211.5,77.5 218.5,84.5 218.5,86.5 219.4,87.4 218.5,86.8 215.5,86.9 214.5,86.1 211.5,86.7 209.2,85.5 208.3,84.5 208.3,83.5 207.5,81.7 206.5,81.3 204.5,81.5ZM138.2,75.5 139.5,74.7 139.5,75.7ZM135.3,82.5 136.5,82.1 136.6,82.5ZM170.2,82.5 170.5,81.9 171.1,82.5ZM174.7,85.5 175.5,84.6 176.5,85.0 177.1,86.5 176.5,87.4ZM210.1,89.5 210.5,88.9 211.1,90.5 211.1,92.5 212.1,94.5 211.5,95.8 210.5,96.6 208.5,96.3 206.6,94.5 206.6,93.5ZM207.4,97.5 207.5,96.6 208.7,97.5ZM200.1,99.5 201.5,99.1 203.5,100.0 204.5,99.4 207.5,102.5 208.5,104.7 209.5,104.8 209.5,107.5 208.5,108.5 208.5,111.2 207.5,110.6 206.5,111.1 205.9,111.5 206.8,112.5 203.5,113.8 200.5,112.3 199.9,110.5 199.0,109.5 199.8,107.5 197.9,106.5 197.9,105.5 199.7,103.5 200.0,102.5 199.2,100.5ZM197.2,113.5 198.5,113.1 198.8,113.5 197.5,114.0ZM204.9,118.5 205.5,118.0 205.8,118.5ZM133.1,155.5 133.5,154.9 134.5,154.6 137.7,155.5 136.2,157.5 136.5,159.2 137.6,160.5 137.5,162.3 140.5,161.4 142.0,162.5 141.5,164.2 139.5,162.8 136.5,162.4 135.8,167.5 136.5,171.8 138.5,173.4 139.5,174.8 140.5,174.8 141.5,176.2 142.5,176.5 141.5,177.5 141.4,179.5 142.0,180.5 142.0,182.5 141.5,183.2 138.5,183.9 137.7,180.5 135.1,180.5 135.0,181.5 136.1,182.5 136.0,183.5 137.3,185.5 136.0,187.5 136.4,189.5 135.5,190.5 133.5,190.5 131.5,191.3 130.5,190.5 129.5,190.6 128.5,191.2 128.2,192.5 130.5,193.3 131.5,194.5 133.8,194.5 133.3,196.5 134.4,198.5 133.3,199.5 133.4,200.5 134.5,201.5 135.5,199.6 136.5,199.5 139.8,201.2 138.5,201.5 137.5,202.5 137.5,204.5 138.5,205.5 139.5,205.5 140.5,206.5 142.5,206.5 143.5,207.5 144.5,207.5 147.5,210.5 142.5,215.5 132.5,215.5 131.5,214.5 130.5,214.5 129.5,213.5 128.5,213.5 124.5,209.5 124.5,208.5 119.5,203.5 119.5,202.5 117.5,199.5 117.5,188.5 118.5,187.5 118.5,183.5 119.5,182.5 119.5,180.5 120.5,179.0 121.5,180.1 122.3,179.5 122.1,178.5 120.5,177.4 120.5,176.5 121.5,175.8 123.5,177.0 123.4,173.5 124.5,173.4 126.5,174.7 126.9,174.5 130.5,169.3 131.0,168.5 130.7,167.5 128.9,166.5 129.6,164.5 130.5,163.7 132.5,163.8 132.9,163.5 131.5,158.5ZM133.5,181.0 133.2,181.5 134.2,181.5ZM125.1,161.5 125.5,160.9 126.8,161.5 126.5,162.1ZM142.2,164.5 142.6,164.5 142.5,165.1ZM127.2,166.5 128.1,166.5 127.5,167.6ZM156.2,166.5 156.5,166.1 156.9,166.5 156.5,166.8ZM123.9,167.5 124.5,167.5 124.0,168.5 122.0,169.0 122.5,167.7ZM138.6,167.5 139.5,166.6 140.1,167.5 139.5,169.0 137.8,168.5ZM150.1,170.5 150.7,170.5 150.5,171.2ZM147.3,172.5 148.3,172.5 147.5,172.9ZM143.9,173.5 144.5,173.2 144.8,173.5 144.5,174.0ZM150.2,173.5 150.5,172.9 150.9,173.5 150.5,174.1ZM142.7,179.5 143.5,179.1 143.9,179.5 143.5,179.9ZM141.1,184.5 141.5,184.0 142.5,184.3 143.5,185.6 142.5,186.2 140.5,186.0 139.0,187.5 138.5,189.0 137.9,188.5 137.6,186.5 138.1,185.5 140.5,185.2ZM136.8,190.5 137.5,189.8 137.9,190.5ZM135.7,195.5 136.5,194.9 137.5,195.2 138.5,195.9 141.5,196.8 142.9,198.1 141.5,199.2 137.7,197.5 137.5,196.4 136.5,196.4Z"/>
<path fill="#fafafa" fill-rule="evenodd" d="M84.5,30.5 102.5,30.5 102.5,34.5 101.5,35.5 101.5,36.1 100.4,36.5 100.1,38.5 99.5,39.0 98.5,38.8 96.9,37.5 95.9,37.5 94.8,38.5 95.8,40.5 95.5,40.9 92.0,42.0 90.5,40.5 90.5,39.5 87.5,36.5 84.5,36.5ZM127.9,34.1 128.5,33.5 130.5,35.5 131.5,35.5 132.5,34.5 134.5,34.5 138.5,38.5 139.8,38.5 139.8,42.5 141.5,43.9 142.5,44.0 143.8,42.5 143.2,39.5 150.5,39.5 151.5,38.5 152.6,38.6 156.5,42.5 156.5,44.5 157.5,45.5 158.5,45.5 163.5,50.5 166.5,50.5 167.5,51.5 170.5,51.5 171.5,52.5 172.5,52.5 173.5,53.5 174.5,53.5 180.5,59.5 180.5,60.5 181.5,61.5 181.5,63.5 182.5,64.5 182.5,66.5 183.5,67.5 185.5,67.5 186.5,68.5 188.5,68.5 189.5,69.5 190.5,69.5 193.5,71.5 195.5,71.5 196.5,72.5 198.5,72.5 199.5,73.5 200.8,73.5 197.5,75.2 197.1,76.5 195.5,78.4 189.5,79.2 186.5,81.6 182.5,83.4 180.5,83.3 175.5,82.1 173.5,82.2 171.7,78.5 171.2,76.5 172.6,75.5 172.1,74.5 168.5,73.6 165.5,74.4 162.5,74.3 160.7,75.5 158.5,77.9 157.5,77.9 155.8,75.5 155.8,72.5 153.7,70.5 151.9,69.5 150.4,67.5 147.8,66.5 147.5,64.2 146.5,62.8 141.5,62.0 137.5,63.5 135.5,66.2 134.3,66.5 133.2,67.5 133.3,70.5 132.7,72.5 133.0,75.5 131.7,79.5 132.2,81.5 130.5,82.4 125.5,82.2 123.5,83.1 121.5,83.3 120.5,82.3 120.0,80.5 117.5,76.3 116.1,72.5 117.5,68.5 117.2,66.5 117.5,65.5 120.5,65.7 122.5,64.6 124.5,61.6 126.6,60.5 125.8,59.5 122.5,59.1 120.5,59.8 118.5,59.7 117.5,60.3 116.6,62.5 117.0,65.5 112.9,65.5 111.6,66.5 111.9,72.5 112.5,75.9 113.2,76.5 111.9,78.5 110.5,82.5 109.5,83.4 108.5,83.4 108.3,82.5 109.0,80.5 105.5,78.4 103.5,78.3 103.5,72.5 104.5,71.5 104.5,68.5 106.5,66.5 106.5,65.5 108.5,63.5 108.5,62.5 111.5,59.5 111.5,57.5 112.5,56.5 112.5,51.5 111.0,50.0 110.8,47.5 111.5,43.5 112.3,42.3 113.5,43.5 115.7,41.3 117.5,41.9 119.5,40.9 126.5,40.4 127.9,37.5ZM149.5,45.9 149.0,46.5 149.1,47.5 149.5,47.6 151.7,46.5ZM133.9,70.5 134.5,70.0 135.0,70.5 134.5,71.0ZM203.9,73.9 204.5,74.5 205.5,74.5 206.5,75.5 207.5,75.5 208.5,76.5 209.5,76.5 210.5,77.5 211.5,77.5 218.5,84.5 218.5,86.3 216.5,86.6 214.5,85.6 211.5,86.2 209.5,85.2 208.7,84.5 208.4,82.5 207.5,81.2 204.5,81.0 203.4,75.5ZM149.3,83.5 149.5,83.2 151.5,84.9 160.5,86.8 163.8,84.5 164.5,82.8 165.5,82.8 166.7,83.5 167.5,85.6 170.1,86.5 170.5,87.1 173.5,87.4 173.5,89.6 174.5,90.1 175.5,89.7 176.1,90.5 176.1,94.5 175.5,95.6 174.5,95.1 174.1,96.5 174.5,97.5 175.5,97.9 176.5,99.3 177.5,99.5 179.5,98.7 181.5,101.4 186.5,99.2 187.6,100.5 186.5,102.0 185.5,101.8 184.6,102.5 186.5,102.8 186.8,103.5 186.6,104.5 184.5,106.1 183.5,105.6 176.5,106.1 176.1,106.5 176.2,108.5 175.8,109.5 174.3,110.5 174.1,111.5 176.5,113.8 178.5,114.5 179.4,115.5 180.2,117.5 181.6,118.5 182.5,120.0 186.5,122.6 188.5,125.5 190.5,126.9 191.8,125.5 192.1,122.5 193.5,121.4 194.5,121.1 195.3,121.5 195.9,122.5 196.2,125.5 195.5,126.9 196.5,126.7 196.7,127.5 196.7,128.5 196.0,129.5 196.2,131.5 194.5,131.5 193.5,132.5 191.5,132.5 189.5,134.5 188.5,134.5 187.5,135.5 187.5,136.5 186.5,137.5 186.5,139.5 185.5,140.5 185.5,141.5 184.5,142.5 184.5,143.5 182.5,145.5 182.5,146.5 179.5,149.5 179.5,150.5 177.5,152.5 176.5,151.5 176.5,150.1 175.5,150.4 173.5,148.6 170.5,149.4 168.5,147.5 164.5,147.1 162.5,143.8 161.0,142.5 163.4,140.5 162.5,139.7 160.5,141.5 158.5,142.6 157.5,142.6 156.8,141.5 156.8,140.5 155.5,137.0 153.5,136.6 151.5,135.4 149.5,135.5 147.5,134.7 143.5,135.4 140.5,134.9 138.5,137.0 136.5,137.5 134.5,135.9 133.5,136.0 132.9,136.5 132.7,137.5 133.8,138.5 129.7,143.5 130.0,144.5 129.5,144.9 128.5,144.4 126.5,145.4 126.5,143.5 127.5,142.5 127.5,138.5 128.5,137.5 128.5,131.3 130.5,130.8 134.5,131.0 136.5,129.4 137.5,129.2 137.8,128.5 136.3,127.5 136.5,126.2 137.5,125.9 139.5,126.5 140.7,125.5 140.7,124.5 139.5,123.4 138.3,123.5 136.5,124.8 135.7,124.5 136.3,122.5 135.0,120.5 135.1,117.5 134.5,115.5 131.5,114.2 130.2,112.5 131.5,110.0 131.6,108.5 130.5,107.4 128.0,106.5 126.8,104.5 125.5,100.8 122.5,104.5 122.5,108.0 123.5,109.4 126.1,110.5 126.0,111.5 127.1,114.5 130.5,115.0 131.5,116.5 132.1,120.5 131.3,122.5 132.0,124.5 131.5,124.8 129.5,124.6 129.5,123.5 128.5,122.5 128.5,119.5 127.5,118.5 127.5,117.5 126.5,116.5 126.5,115.5 125.5,114.5 124.5,114.5 123.8,113.8 124.2,113.5 123.5,112.3 121.5,112.5 115.5,106.5 115.5,105.5 114.5,104.5 114.5,103.9 116.5,102.9 118.5,102.8 121.5,99.3 122.5,98.6 123.8,98.5 123.7,95.5 123.0,93.5 121.8,92.5 123.4,90.5 125.5,89.1 126.5,88.8 129.5,89.6 131.5,89.1 132.5,89.8 133.5,89.7 135.5,88.0 138.5,89.6 143.5,85.6 144.5,84.1 145.5,83.7 147.5,84.1ZM209.7,90.5 210.5,90.3 210.7,91.5 209.5,92.5 209.1,91.5ZM208.3,93.5 209.5,92.5 211.5,94.4 211.2,95.5 210.5,96.1 208.5,95.5 207.7,94.5ZM200.7,100.5 201.5,99.8 203.5,101.3 205.5,101.3 208.5,105.3 209.5,105.5 209.5,107.5 208.5,108.5 208.5,110.2 207.5,109.9 205.5,110.8 204.8,112.5 203.5,113.1 201.1,111.5 199.7,109.5 200.4,107.5 199.1,105.5ZM133.2,124.5 135.5,124.6 135.9,125.5 134.5,125.7ZM133.7,155.5 134.5,155.0 136.0,155.5 135.5,158.5 136.6,160.5 135.3,163.5 135.5,164.5 134.6,166.5 134.6,167.5 136.1,172.5 137.5,173.1 138.4,174.5 137.5,175.4 136.5,174.6 135.9,175.5 136.5,176.3 138.5,175.7 140.3,176.5 139.2,179.5 137.5,179.8 135.5,178.5 136.4,177.5 135.5,177.0 134.5,177.2 134.3,176.5 132.5,175.2 131.8,176.5 132.1,180.5 131.5,181.1 129.7,181.5 130.5,182.1 132.5,182.1 134.5,182.9 136.5,184.5 136.4,185.5 135.4,187.5 135.5,189.5 134.5,190.1 131.5,190.5 130.5,189.9 128.5,190.2 127.6,192.5 127.9,193.5 129.5,194.3 129.6,195.5 130.5,196.0 132.7,195.5 133.6,198.5 132.0,199.5 133.5,201.8 135.5,203.0 137.5,201.9 137.9,202.1 137.5,202.5 137.5,204.5 138.2,205.2 137.9,205.5 138.5,206.4 139.5,205.5 140.5,206.5 142.5,206.5 143.5,207.5 144.5,207.5 147.5,210.5 144.2,213.8 143.5,212.9 142.5,215.5 132.5,215.5 131.5,214.5 130.5,214.5 129.5,213.5 128.5,213.5 124.5,209.5 124.5,208.5 119.5,203.5 119.5,202.5 117.5,199.5 117.5,188.5 118.5,187.5 118.5,183.5 119.5,182.5 119.5,180.9 121.5,181.8 122.6,181.5 123.3,178.5 124.5,177.5 124.1,175.5 124.5,174.2 126.5,175.5 127.5,175.1 130.5,171.2 131.0,171.5 131.0,173.5 131.5,173.9 132.5,174.1 133.5,173.5 133.3,172.5 131.8,171.5 131.1,170.5 131.6,167.5 132.8,166.5 133.2,164.5 134.0,163.5 132.6,158.5ZM140.5,208.5 139.7,209.5 140.5,210.7 140.9,210.5 140.9,209.5ZM143.5,207.6 142.8,208.5 143.5,210.0 144.5,210.6 145.9,209.5 145.2,208.5ZM126.5,178.9 126.0,179.5 126.5,180.8 127.7,179.5 127.5,179.0ZM126.5,187.7 126.2,188.5 126.5,189.5 127.3,188.5ZM130.1,165.5 130.5,164.6 131.2,165.5 130.5,166.6ZM134.3,178.5 134.5,178.1 135.2,178.5ZM139.4,180.5 139.5,180.2 141.5,181.5 141.1,182.5 139.5,182.8 138.9,182.5Z"/>
<path fill="#98c6e4" fill-rule="evenodd" d="M84.5,30.5 102.5,30.5 102.5,34.5 101.5,33.6 99.5,35.9 97.5,35.1 96.1,35.5 95.6,36.5 91.9,38.5 90.9,40.9 90.5,39.5 87.5,36.5 84.5,36.5ZM128.8,33.8 130.5,35.5 131.5,35.5 132.5,34.5 134.5,34.5 137.9,37.9 134.5,38.6 133.9,39.5 133.9,41.5 133.2,42.5 133.3,43.5 134.5,47.0 138.5,50.3 139.5,50.0 140.5,50.5 139.4,51.5 139.5,52.5 140.5,53.3 143.5,53.1 145.2,52.5 144.5,51.5 145.5,48.4 146.5,48.3 147.1,49.5 149.5,51.0 150.5,50.6 150.7,48.5 152.5,47.5 153.0,45.5 152.5,44.7 151.5,45.0 150.2,44.5 148.9,41.5 150.5,40.7 152.5,41.3 153.8,39.8 156.5,42.5 156.5,44.5 157.5,45.5 158.5,45.5 163.5,50.5 166.5,50.5 167.5,51.5 170.5,51.5 171.5,52.5 172.5,52.5 173.5,53.5 174.5,53.5 180.5,59.5 180.5,60.5 181.5,61.5 181.5,63.5 182.5,64.5 182.5,66.5 183.5,67.5 185.5,67.5 186.5,68.5 188.5,68.5 189.5,69.5 190.5,69.5 193.5,71.5 195.5,71.5 196.5,72.5 198.5,72.5 199.6,73.5 197.5,74.2 195.5,77.9 189.5,78.6 188.5,79.0 187.5,80.2 182.5,82.9 180.5,82.7 178.5,81.8 176.2,81.5 175.4,80.5 175.7,77.5 173.6,74.5 172.5,73.7 167.5,72.7 166.4,73.5 162.5,73.7 157.5,76.1 156.6,74.5 156.5,72.5 151.3,67.5 148.5,66.0 147.5,63.3 146.7,62.5 141.5,61.7 136.2,63.5 134.8,65.5 132.8,66.5 131.9,71.5 132.1,74.5 131.2,76.5 130.8,78.5 130.9,80.5 130.5,81.0 129.5,80.9 126.5,78.4 124.5,78.3 124.2,78.5 124.4,80.5 123.5,81.3 122.5,81.2 120.5,79.3 120.1,76.5 117.6,73.5 117.8,69.5 118.5,67.3 120.9,66.5 123.5,64.9 124.5,62.5 127.1,61.5 127.5,60.5 127.2,59.5 126.5,59.1 122.5,58.6 117.0,59.5 115.9,62.5 115.8,64.5 112.5,65.0 110.6,66.5 111.7,75.5 110.5,78.1 109.5,78.9 108.5,78.5 107.5,78.8 105.5,77.8 103.5,77.7 103.5,72.5 104.5,71.5 104.5,68.5 106.5,66.5 106.5,65.5 108.5,63.5 108.5,62.5 111.5,59.5 111.5,57.5 112.5,56.5 112.5,51.5 111.7,50.7 112.4,49.5 111.9,47.5 112.3,43.5 112.8,42.8 113.5,43.5 114.8,42.2 118.5,42.6 120.5,41.7 126.5,41.1 128.9,38.5ZM146.0,42.5 146.5,41.9 147.6,42.5 146.5,43.2ZM138.4,43.5 139.5,44.5 138.5,45.3 137.5,45.1 137.1,44.5ZM144.5,43.5 144.5,45.6 144.1,45.5 143.9,44.5ZM142.3,47.5 142.5,47.1 142.7,47.5 142.5,48.5ZM204.9,74.5 206.5,75.5 207.5,75.5 208.5,76.5 209.5,76.5 210.5,77.5 211.5,77.5 218.5,84.5 218.5,85.2 216.5,85.6 214.5,85.0 212.5,85.5 211.5,85.2 210.5,83.5 209.5,83.1 209.1,81.5 207.5,80.2 206.5,80.0 205.5,80.5 204.9,79.5 204.8,76.5 205.5,75.5ZM144.5,85.5 145.5,85.0 147.5,85.8 150.5,85.6 154.5,86.7 156.5,86.3 160.5,87.7 163.5,86.1 164.5,86.5 166.5,85.6 169.5,87.3 170.5,88.7 172.2,88.5 173.5,92.5 172.9,96.5 173.5,98.7 174.5,98.7 178.5,101.6 179.5,101.2 181.8,102.5 182.7,103.5 182.9,104.5 182.5,104.7 180.5,104.4 177.5,105.0 176.5,104.7 174.5,106.3 173.4,106.5 173.2,107.5 173.5,107.9 174.5,107.6 174.6,108.5 173.1,109.5 172.8,110.5 173.8,112.5 175.1,113.5 177.5,116.5 177.3,117.5 180.5,118.6 182.0,120.5 183.7,121.5 185.4,123.5 185.3,125.5 187.5,126.2 188.4,128.5 188.1,130.5 189.2,132.5 189.3,134.5 188.5,134.5 187.5,135.5 187.5,136.5 186.5,137.5 186.5,139.5 185.5,140.5 185.5,141.5 184.5,142.5 184.5,143.5 182.5,145.5 182.5,146.5 181.5,147.5 178.5,147.7 177.6,145.5 177.6,143.5 176.5,143.4 175.7,147.5 175.4,146.5 173.5,145.4 172.5,145.8 170.5,147.8 169.1,146.5 167.5,146.1 167.6,144.5 168.3,143.5 166.9,142.5 167.2,140.5 166.5,139.3 165.5,139.6 162.5,138.4 159.5,139.9 158.6,141.5 157.9,141.5 157.5,138.2 158.5,137.3 159.6,137.5 159.3,136.5 157.5,135.1 155.5,135.3 151.5,134.6 149.5,134.8 147.5,134.1 145.5,133.9 143.5,134.7 140.5,133.9 138.5,134.8 138.0,132.5 139.4,129.5 140.7,128.5 140.7,127.5 142.5,127.1 142.9,125.5 141.2,123.5 139.5,122.4 137.5,122.0 136.0,120.5 135.5,116.8 134.5,114.5 131.4,112.5 132.2,108.5 131.5,107.4 128.8,105.5 128.2,104.5 127.1,100.5 127.3,98.5 126.5,96.5 125.5,98.1 125.0,97.5 124.9,95.5 124.0,93.5 124.0,91.5 124.8,90.5 126.5,89.8 128.5,90.5 131.5,90.0 133.5,90.4 135.5,89.3 138.5,90.6 142.5,87.7ZM169.5,106.4 169.5,106.8 170.5,107.2 170.9,106.5ZM170.5,108.7 170.5,109.7 170.9,109.5ZM122.1,100.5 122.9,100.5 122.7,101.5ZM201.0,102.5 201.5,101.8 202.5,101.8 204.5,103.3 206.5,103.8 208.5,106.3 209.5,106.6 209.5,107.5 208.5,108.8 206.5,109.1 205.8,108.5 205.5,107.1 204.6,107.5 204.4,108.5 201.5,110.4 200.7,108.5 201.6,107.5 201.5,106.5 200.6,105.5ZM120.4,103.5 120.5,103.1 121.0,104.5 120.5,105.0 120.1,104.5ZM117.2,105.5 117.5,105.2 117.9,105.5 117.5,106.8ZM127.3,116.5 129.5,116.2 129.9,116.5 129.5,117.2 127.5,117.6ZM193.4,122.5 194.5,122.4 194.8,123.5 194.8,125.5 193.9,128.5 195.0,131.5 193.5,132.5 191.5,132.5 191.1,132.9 189.4,129.5 192.5,126.1ZM131.8,132.5 132.5,131.6 133.5,132.4 136.6,132.5 134.5,134.3ZM130.3,139.5 130.7,139.5 130.5,140.8 126.9,143.5 126.5,144.6 126.5,143.5 127.5,142.5 127.5,140.8ZM163.1,142.5 163.5,142.1 165.5,142.9 165.9,143.5 165.5,144.6 164.5,144.9ZM133.1,170.5 133.5,169.9 134.5,170.5ZM128.4,175.5 128.9,176.5 128.5,176.9 128.0,176.5ZM127.3,182.5 127.7,182.5 127.9,183.5 124.4,188.5 125.5,190.8 126.5,191.5 126.6,193.5 128.0,195.5 125.5,197.4 125.4,199.5 124.3,201.5 123.9,204.5 127.5,207.5 128.3,210.5 128.2,211.5 127.1,212.1 124.5,209.5 124.5,208.5 119.5,203.5 119.5,202.5 117.5,199.5 117.5,188.5 118.5,187.5 120.4,183.5 121.5,183.7 123.5,186.4ZM131.0,184.5 131.5,183.9 132.5,183.9 133.3,184.5 133.5,185.5 132.0,186.5 132.0,188.5 131.5,188.6 130.5,188.5 129.1,187.5 130.6,186.5ZM132.9,188.5 133.5,188.1 133.9,188.5ZM129.6,202.5 130.5,201.7 133.5,204.6 136.5,205.1 136.7,206.5 134.5,206.8 133.5,206.5 132.5,205.1 130.5,205.3 129.7,204.5ZM130.9,207.5 131.5,207.0 132.5,207.2 133.1,207.5 133.3,208.5 131.8,209.5 132.0,210.5 129.5,213.1 128.7,211.5 128.9,210.5ZM134.2,209.5 134.7,209.5 135.2,211.5 134.1,212.5 135.1,214.5 136.5,215.5 132.4,215.4 132.8,210.5ZM135.7,211.5 137.5,210.8 139.7,211.5Z"/>
<path fill="#8bbde0" fill-rule="evenodd" d="M84.5,30.5 97.4,30.5 98.5,31.0 99.2,30.5 102.5,30.5 102.5,33.5 102.4,32.5 101.5,32.1 100.3,32.5 98.5,34.3 94.5,34.6 93.6,35.5 94.2,36.5 89.8,38.8 87.5,36.5 84.5,36.5ZM129.3,34.3 130.5,35.5 131.5,35.5 132.5,34.5 134.5,34.5 137.5,37.5 135.5,37.3 132.8,38.5 133.1,41.5 132.6,42.5 133.7,46.5 137.1,49.5 140.0,53.5 144.5,53.5 146.0,52.5 145.8,51.5 147.5,50.5 149.5,51.6 150.5,51.7 151.9,48.5 153.5,46.5 153.6,44.5 155.5,42.7 156.5,42.9 156.5,44.5 157.5,45.5 158.5,45.5 163.5,50.5 166.5,50.5 167.5,51.5 170.5,51.5 171.5,52.5 172.5,52.5 173.5,53.5 174.5,53.5 180.5,59.5 180.5,60.5 181.5,61.5 181.5,63.5 182.5,64.5 182.5,66.5 183.5,67.5 185.5,67.5 186.5,68.5 188.5,68.5 189.5,69.5 190.5,69.5 193.5,71.5 195.5,71.5 196.5,72.5 198.5,72.5 199.0,73.0 196.9,74.5 195.5,77.7 189.0,78.5 183.5,82.2 182.5,82.6 180.5,82.4 178.5,81.4 176.5,81.1 176.0,80.5 176.0,77.5 174.3,74.5 172.5,73.2 169.5,72.8 167.5,71.6 166.5,72.3 157.5,75.1 156.5,72.0 151.8,67.5 148.5,65.6 147.0,62.5 144.5,61.8 140.5,61.7 135.6,63.5 134.5,65.0 132.2,66.5 131.5,70.5 131.6,74.5 129.8,77.5 130.5,79.7 129.5,79.6 128.1,78.5 128.9,77.5 128.5,76.5 128.1,77.5 127.5,77.8 124.5,77.6 123.5,78.4 123.4,79.5 122.5,80.4 120.6,78.5 120.9,76.5 120.4,75.5 118.3,73.5 118.6,71.5 118.2,69.5 119.1,67.5 123.5,65.5 124.4,64.5 125.1,62.5 127.5,61.7 128.0,60.5 127.8,59.5 126.5,58.8 122.5,58.4 116.5,59.3 115.2,64.5 112.5,64.7 110.5,65.7 110.1,66.5 110.7,68.5 111.3,75.5 110.5,77.2 109.5,77.9 107.5,78.3 105.5,77.4 103.5,77.3 103.5,72.5 104.5,71.5 104.5,68.5 106.5,66.5 106.5,65.5 108.5,63.5 108.5,62.5 111.5,59.5 111.5,57.5 112.5,56.5 112.5,51.5 112.1,51.1 112.9,49.5 112.4,47.5 112.7,43.5 113.1,43.1 113.5,43.5 114.3,42.7 118.5,43.0 122.5,42.0 124.5,42.2 126.5,41.5 128.5,39.9 129.3,38.5ZM154.3,40.3 155.8,41.8 154.0,41.5ZM149.7,41.5 150.5,41.2 151.8,41.5 152.3,42.5 151.5,43.8 150.5,43.8ZM206.1,75.1 207.5,75.5 208.5,76.5 209.5,76.5 210.5,77.5 211.7,77.7 218.5,84.7 217.5,84.4 212.5,85.1 211.7,84.5 210.5,80.6 209.5,81.0 206.2,78.5 205.6,77.5ZM144.0,86.5 145.5,85.7 147.5,86.9 150.5,86.2 154.5,87.4 156.5,86.8 158.4,87.5 158.9,88.5 160.5,89.6 161.0,88.5 162.5,87.2 166.5,86.3 168.9,87.5 169.5,88.9 171.4,90.5 172.8,92.5 172.4,97.5 173.5,99.8 175.5,100.0 177.5,102.0 179.9,102.5 180.2,103.5 178.5,104.3 176.5,104.2 172.5,106.0 170.5,105.4 168.8,106.5 169.7,108.5 169.5,109.6 170.5,110.6 172.5,110.9 173.5,113.2 175.5,114.9 176.6,117.5 177.5,118.5 180.5,119.2 183.5,121.8 184.7,123.5 184.7,125.5 187.0,126.5 187.3,127.5 188.8,134.5 187.5,135.5 187.5,136.5 186.5,137.5 186.5,139.5 185.5,140.5 185.5,141.5 184.5,142.5 184.5,143.5 182.5,145.5 182.2,146.8 179.5,144.8 178.5,144.7 180.6,143.5 180.4,142.5 179.5,142.1 178.5,142.8 176.5,142.8 175.7,143.5 175.5,144.7 174.5,145.1 171.5,145.0 170.5,146.5 168.5,145.7 168.4,144.5 169.2,143.5 167.7,141.5 167.5,139.4 166.5,138.4 162.5,138.0 161.5,138.2 160.5,137.6 159.1,135.5 157.5,134.6 155.5,134.8 152.5,134.0 149.5,134.5 145.5,133.5 143.5,134.2 141.5,133.5 138.9,133.5 138.8,132.5 140.5,129.8 141.5,129.6 142.5,130.1 143.6,129.5 143.1,124.5 136.5,120.5 134.9,114.5 132.3,112.5 132.1,107.5 128.7,104.5 128.3,101.5 130.2,100.5 130.5,99.5 128.6,98.5 129.0,97.5 130.4,96.5 130.6,95.5 128.5,94.5 127.5,95.7 125.5,95.2 124.5,93.5 124.5,91.5 126.5,90.1 127.6,90.5 128.5,92.5 128.9,91.5 130.5,90.5 133.5,90.7 135.5,89.8 138.5,91.0 142.5,88.4ZM149.5,123.1 148.5,123.5 148.6,124.5 149.5,125.6 150.7,124.5 150.7,123.5ZM156.5,112.9 156.4,113.5 156.9,113.5ZM157.5,107.0 156.8,108.5 157.5,109.3 158.4,108.5ZM183.5,140.4 183.5,141.1 184.6,140.5ZM201.4,102.5 202.5,102.2 203.5,103.5 203.5,104.5 201.5,105.8 200.9,103.5ZM180.5,103.5 181.5,103.1 181.8,103.5 181.5,104.2ZM203.6,104.5 206.5,104.4 208.7,107.5 207.5,108.0 206.5,107.8 206.3,106.5 204.5,105.6ZM202.5,107.5 203.5,107.0 203.5,108.1 201.5,108.5ZM193.4,125.5 193.5,124.8 194.0,125.5 193.8,127.5 192.9,129.5 190.5,130.7 190.3,129.5 193.1,126.5ZM193.4,132.5 193.5,131.8 194.0,132.0ZM158.2,138.5 158.9,138.5 159.0,139.5 158.5,140.3 158.0,139.5ZM127.5,141.5 128.7,141.5 127.5,142.0ZM120.2,184.5 121.5,184.3 122.6,185.5 122.9,187.5 125.8,192.5 123.1,205.5 123.5,207.3 123.7,206.5 124.5,206.2 126.8,207.5 127.4,210.5 126.8,211.8 124.5,209.5 124.5,208.5 119.5,203.5 119.5,202.5 117.5,199.5 117.5,188.5 120.1,186.5ZM130.3,203.5 130.5,203.1 131.2,203.5 130.5,204.0ZM131.1,208.5 131.5,208.1 131.8,208.5 131.5,208.8ZM133.4,213.5 133.8,214.5 133.5,214.8Z"/>
<path fill="#7cb3db" fill-rule="evenodd" d="M84.5,30.5 96.6,30.5 97.5,31.7 99.1,32.5 98.1,33.5 96.5,34.1 93.5,33.6 92.8,35.5 93.2,36.5 91.5,37.6 89.2,38.2 87.5,36.5 84.5,36.5ZM100.4,30.5 101.9,30.5 100.5,31.5ZM132.1,34.9 132.5,34.5 133.7,34.5 135.0,36.5 132.5,37.8 131.7,40.5 130.6,41.5 131.9,42.5 133.2,46.5 136.7,49.5 139.5,53.6 140.5,54.2 144.5,54.0 146.5,52.7 146.9,51.5 147.5,51.1 149.5,52.5 150.9,52.5 152.5,50.5 152.8,48.5 153.5,47.3 154.8,46.5 154.2,44.5 155.5,43.3 156.5,43.8 156.5,44.5 157.5,45.5 158.6,45.6 163.5,50.5 166.5,50.5 167.5,51.5 170.5,51.5 171.5,52.5 172.5,52.5 173.5,53.5 174.5,53.5 180.5,59.5 180.5,60.5 181.5,61.5 181.5,63.5 182.5,64.5 182.5,66.5 183.5,67.5 185.5,67.5 186.5,68.5 188.5,68.5 189.5,69.5 190.5,69.5 193.5,71.5 195.5,71.5 196.5,72.5 198.5,72.5 196.6,74.5 195.5,77.4 194.5,77.9 188.5,78.4 183.5,82.0 182.5,82.4 180.5,82.2 176.7,80.5 176.4,77.5 174.9,74.5 172.5,72.7 169.5,72.4 168.8,71.5 168.5,70.1 167.5,70.2 166.5,71.4 163.5,72.9 160.5,73.3 158.5,74.4 157.5,74.4 157.2,72.5 156.5,71.6 152.4,67.5 148.5,65.2 147.4,62.5 144.5,61.6 141.5,61.5 135.5,63.1 131.6,66.5 130.8,70.5 131.2,72.5 131.0,74.5 129.5,75.8 128.5,75.2 126.5,76.8 123.6,77.5 122.5,79.2 121.4,78.5 121.1,77.5 122.6,75.5 121.5,74.9 120.5,75.0 118.8,73.5 119.7,70.5 119.4,68.5 120.2,67.5 124.8,65.5 125.5,62.7 128.2,61.5 128.4,59.5 125.5,58.2 116.5,58.8 115.7,59.5 115.5,61.5 114.9,62.5 115.1,63.5 114.5,64.3 111.5,64.5 110.1,65.5 109.7,66.5 110.5,68.7 111.0,72.5 111.0,75.5 110.5,76.4 107.5,77.8 103.5,77.0 103.5,72.5 104.5,71.5 104.5,68.5 106.5,66.5 106.5,65.5 108.5,63.5 108.5,62.5 111.5,59.5 111.5,57.5 112.5,56.5 112.5,51.5 113.5,49.5 112.9,48.5 112.7,45.5 113.2,43.5 115.5,43.1 118.5,43.5 122.5,42.5 124.5,42.8 125.5,42.0 127.5,41.5 129.4,39.5 130.5,36.7 132.4,35.5ZM155.5,47.2 155.1,47.5 155.5,47.7ZM136.1,36.1 136.8,36.8 136.1,36.5ZM206.4,76.5 207.4,75.5 208.5,76.5 209.5,76.5 210.6,77.5 210.0,79.5 209.5,79.9 208.2,79.5ZM212.3,79.5 213.1,79.1 217.5,83.5 216.5,83.3 215.4,84.5 214.7,83.5 214.8,81.5 213.5,81.4 212.5,82.0ZM212.2,83.5 212.5,82.7 213.0,84.5 212.3,84.5ZM143.8,87.5 144.5,86.6 146.5,86.7 147.5,87.7 150.5,86.7 153.4,87.5 153.9,88.5 154.5,88.7 156.5,87.2 157.5,87.9 158.2,89.5 160.5,90.4 161.5,90.1 162.0,88.5 163.2,87.5 166.5,87.4 168.5,88.4 168.6,89.5 170.5,90.6 172.1,92.5 172.5,93.5 171.8,96.5 171.9,98.5 173.5,100.9 175.5,100.8 176.5,101.7 177.3,103.5 174.5,104.8 170.5,105.0 169.0,105.5 168.3,106.5 169.1,108.5 168.9,109.5 169.6,110.5 172.5,112.1 173.2,114.5 175.5,116.0 176.5,118.5 178.5,119.7 180.5,119.7 181.5,121.1 183.5,122.4 183.8,125.5 186.5,126.8 186.9,127.5 187.3,130.5 188.5,133.5 188.4,134.5 187.5,135.5 187.5,136.5 186.5,137.5 186.5,138.7 185.5,140.2 183.5,139.4 182.5,140.5 182.6,141.5 184.4,142.5 183.5,144.5 182.5,145.5 182.5,146.2 181.5,145.9 180.5,144.5 181.1,142.5 180.5,141.6 175.2,142.5 174.5,144.6 170.5,144.0 168.5,142.0 168.1,139.5 166.5,138.0 161.5,137.6 159.5,135.2 157.5,134.2 154.5,134.1 152.5,133.2 149.5,134.2 145.5,132.9 142.5,133.5 139.5,132.6 140.5,130.6 142.5,130.7 143.5,130.3 144.0,129.5 144.0,124.5 143.7,123.5 142.5,123.5 138.5,121.5 136.3,119.5 135.2,114.5 132.4,111.5 132.5,107.2 129.4,104.5 129.2,101.5 131.0,100.5 130.5,98.5 131.2,95.5 128.7,93.5 129.7,91.5 131.5,90.7 133.5,91.1 135.5,90.3 139.5,91.5 140.5,90.1 142.5,89.4ZM148.5,122.5 148.0,123.5 148.1,124.5 149.5,126.4 151.5,124.5 151.7,123.5ZM157.5,105.9 156.3,108.5 156.6,109.5 157.5,110.0 158.6,109.5 159.0,108.5 158.5,106.5ZM180.5,138.8 180.5,139.8 181.4,139.5ZM153.5,112.8 153.1,113.5 153.5,115.1 154.4,113.5ZM156.5,111.6 155.8,112.5 155.7,113.5 156.5,114.5 157.5,114.7 158.0,113.5ZM126.4,90.5 127.4,91.5 127.2,92.5 126.5,93.9 125.5,94.2 125.1,93.5 125.1,91.5ZM201.3,103.5 201.5,103.0 202.5,102.9 202.8,103.5 202.6,104.5 201.5,104.9ZM120.9,185.5 121.5,185.1 121.9,185.5 122.4,186.5 121.9,187.5 122.5,189.5 123.5,191.7 124.5,192.5 124.0,195.5 124.5,197.5 123.0,202.5 120.5,203.5 120.5,204.5 119.5,203.5 119.5,202.5 117.5,199.5 117.5,189.0 118.5,188.8 120.5,187.1 121.0,186.5ZM125.5,210.5 125.2,210.2 126.5,210.2 126.5,211.3Z"/>
<path fill="#6ca8d6" fill-rule="evenodd" d="M84.5,30.5 89.2,30.5 89.5,32.4 90.5,32.2 91.4,30.5 95.5,30.5 96.3,32.5 95.5,33.5 94.5,32.0 92.5,32.5 91.9,36.5 88.7,37.7 87.5,36.5 84.5,36.5ZM130.4,38.5 131.5,38.3 131.5,39.6 130.5,40.0ZM129.5,40.5 129.6,41.5 131.5,43.1 132.2,44.5 132.5,46.8 136.0,49.5 139.0,53.5 140.5,54.7 144.5,54.6 146.8,53.5 147.5,52.3 148.5,52.5 149.5,53.8 152.3,52.5 152.5,51.5 153.5,50.5 153.5,48.9 156.5,48.5 156.4,47.5 155.2,45.5 155.0,44.5 155.5,44.2 159.5,46.5 161.7,48.7 161.9,49.5 163.5,50.5 166.5,50.5 167.5,51.5 170.5,51.5 171.5,52.5 172.5,52.5 173.5,53.5 174.5,53.5 180.5,59.5 180.5,60.5 181.5,61.5 181.5,63.5 182.5,64.5 182.5,66.5 183.5,67.5 185.5,67.5 186.5,68.5 188.5,68.5 189.5,69.5 190.5,69.5 193.5,71.5 195.7,71.7 197.1,72.5 195.5,76.9 194.5,77.7 188.5,78.2 183.5,81.7 182.5,82.1 180.5,81.9 177.5,80.1 175.5,74.4 172.5,72.0 169.5,71.7 168.5,69.3 165.5,69.1 164.8,71.5 163.5,72.4 162.5,72.8 160.5,72.6 158.5,73.7 158.1,73.5 157.4,71.5 155.9,70.5 154.5,68.5 148.5,64.7 147.5,62.2 144.5,61.4 141.5,61.3 135.5,62.5 133.3,64.5 131.3,65.5 130.7,66.5 130.9,68.5 129.9,70.5 130.7,72.5 130.5,74.1 129.5,74.7 128.5,73.9 126.5,74.7 124.9,76.5 123.5,76.9 122.9,76.5 123.2,75.5 122.5,74.5 120.5,74.3 119.5,73.7 119.3,72.5 121.0,71.5 120.6,68.5 121.2,67.5 125.5,66.3 126.4,65.5 125.5,64.5 125.5,63.4 128.5,62.3 129.1,59.5 125.5,57.9 116.5,58.3 114.7,59.5 115.2,60.5 114.2,62.5 114.4,63.5 113.5,64.1 111.5,63.9 109.5,65.3 108.5,65.1 108.1,66.5 105.4,69.5 106.5,70.0 108.4,68.5 108.5,67.2 109.5,67.7 110.7,72.5 110.4,75.5 107.5,77.1 103.5,76.6 103.5,72.5 104.5,71.5 104.5,68.5 106.5,66.5 106.5,65.5 108.5,63.5 108.5,62.5 111.5,59.5 111.5,57.5 112.5,56.5 113.1,51.5 114.3,49.5 113.3,47.5 113.5,44.3 115.5,43.8 118.5,44.5 121.5,43.9 122.5,43.0 123.5,43.0 124.5,43.7 125.5,42.5 129.1,41.5ZM119.5,48.3 119.1,48.5 119.5,48.8 119.9,48.5ZM144.3,87.5 145.5,87.0 146.5,87.2 147.5,89.2 147.7,88.5 149.5,87.3 151.5,87.4 152.8,88.5 153.0,90.5 153.5,90.9 155.5,90.0 157.5,91.3 159.3,90.5 161.5,90.9 163.4,89.5 163.3,88.5 164.5,88.1 165.8,88.5 165.5,91.9 166.1,91.5 165.6,89.5 166.5,89.1 168.5,91.4 169.5,90.9 170.5,91.5 170.8,92.5 171.9,93.5 171.0,96.5 171.0,98.5 172.0,100.5 171.7,101.5 172.4,102.5 170.3,104.5 167.9,105.5 167.7,106.5 168.4,108.5 168.2,109.5 174.8,116.5 175.2,118.5 177.5,120.5 180.5,120.6 181.3,122.5 180.2,123.5 180.5,124.5 183.5,126.2 186.5,129.4 186.8,131.5 188.0,133.5 187.9,134.5 186.5,136.6 185.5,137.3 184.5,136.5 183.5,137.2 180.5,137.5 179.5,139.8 177.5,141.4 176.5,141.7 174.5,140.9 173.5,143.4 172.5,143.3 171.6,142.5 172.1,141.5 171.9,140.5 171.0,140.5 170.5,141.3 167.9,138.5 165.5,136.8 163.5,137.2 161.5,136.8 160.3,134.5 156.5,133.1 154.4,133.5 152.5,132.2 149.5,133.7 145.5,131.8 144.5,132.3 143.7,131.5 144.6,130.5 144.4,125.5 145.5,124.0 146.5,123.3 147.5,124.1 148.5,126.3 149.5,126.9 151.8,125.5 153.5,123.5 151.5,122.4 148.5,121.6 147.5,121.6 144.5,123.0 142.5,123.0 138.5,121.0 136.5,119.2 134.5,111.5 133.5,111.4 133.1,110.5 133.8,105.5 131.5,103.5 131.5,102.1 130.4,102.5 130.4,101.5 131.9,100.5 131.4,98.5 131.8,95.5 129.7,93.5 130.5,91.5 131.5,91.2 134.5,91.6 136.5,91.2 139.5,92.6 141.2,90.5 143.5,90.3 144.4,89.5ZM146.5,93.9 145.9,94.5 146.5,95.1 147.3,94.5ZM150.5,115.3 148.5,117.7 149.5,117.8 150.8,116.5 151.0,115.5ZM151.5,100.1 151.1,100.5 151.5,101.9 152.5,101.5 152.8,100.5ZM155.5,93.2 154.9,93.5 155.5,93.7 157.6,93.5ZM160.5,93.5 160.5,94.2 161.2,93.5ZM162.5,101.3 161.6,101.5 162.5,103.7 163.3,102.5 163.0,101.5ZM166.5,95.3 167.5,96.3 167.7,95.5ZM180.5,128.1 180.2,128.5 180.5,129.6 180.8,128.5ZM157.5,105.1 156.9,105.5 155.4,109.5 153.5,110.3 151.5,109.0 151.0,109.5 150.7,110.5 151.5,111.5 153.0,111.5 152.3,113.5 152.6,115.5 153.5,116.8 156.5,116.6 161.2,112.5 160.5,111.1 159.5,111.3 158.5,112.9 157.9,111.5 158.2,110.5 159.9,109.5 159.6,107.5 161.5,106.7 161.5,105.6 159.5,106.1ZM160.5,95.8 158.3,97.5 159.5,98.0 160.3,97.5 161.6,96.5ZM162.5,130.7 161.7,131.5 162.5,132.0 163.3,131.5ZM160.5,100.1 159.0,101.5 159.5,102.1 161.5,100.9 161.5,100.5ZM172.6,102.5 174.5,101.9 176.1,102.5 175.7,103.5 174.5,104.0 172.9,103.5ZM140.7,131.5 142.5,131.5 142.9,132.5 140.9,132.5ZM184.7,138.5 185.5,137.6 185.5,138.8ZM170.4,142.5 170.5,141.9 171.2,142.5ZM181.6,143.5 182.5,142.8 182.9,143.5 182.5,145.4 181.1,144.5ZM119.7,188.5 120.5,187.9 121.5,188.5 122.4,191.5 123.5,193.5 123.0,195.5 124.1,197.5 123.5,199.3 122.9,199.5 122.5,201.7 119.5,203.0 118.5,201.5 117.5,198.2 117.5,190.8 119.5,192.4 120.1,191.5 119.1,190.5 118.9,189.5Z"/>
<path fill="#5e9dd0" fill-rule="evenodd" d="M84.5,30.5 85.2,30.5 85.6,33.5 86.5,34.5 86.0,36.5 84.5,36.4ZM92.4,30.5 94.8,30.5 93.5,31.3ZM90.7,33.5 91.5,33.2 91.6,33.5 91.6,34.5 90.5,36.2 88.6,36.5 88.8,34.5ZM126.4,42.5 128.5,43.0 129.5,44.3 131.5,44.4 132.2,47.5 135.1,49.5 140.5,55.4 142.5,55.1 143.5,55.7 144.5,55.6 145.4,54.5 146.5,54.2 148.5,54.3 149.5,55.1 150.5,54.8 151.3,53.5 153.5,52.5 154.5,49.3 155.5,49.5 156.5,50.5 157.5,50.1 158.1,48.5 156.5,46.4 159.5,47.4 160.5,50.7 161.5,51.3 163.5,50.7 165.5,51.9 166.0,51.5 166.1,50.5 166.5,50.5 167.5,51.5 170.5,51.5 173.4,53.4 173.5,54.7 177.2,56.2 180.5,59.5 180.5,60.5 181.5,61.5 181.5,63.5 182.5,64.5 182.5,66.5 183.5,67.5 185.5,67.5 186.5,68.5 188.5,68.5 189.5,69.5 190.5,69.5 191.5,70.5 192.5,70.5 194.0,72.5 195.9,73.5 195.4,76.5 194.5,77.3 188.5,77.9 186.5,79.5 185.5,79.6 183.5,81.5 181.5,81.8 180.4,81.5 177.9,79.5 177.4,76.5 175.5,73.6 172.5,71.3 170.2,70.5 167.5,67.8 165.2,68.5 163.7,71.5 162.5,72.2 158.5,72.0 157.5,70.8 156.5,70.5 154.5,67.9 148.8,64.5 147.5,61.8 144.5,61.1 140.5,61.1 137.5,62.0 134.5,62.2 132.5,64.2 131.5,64.6 129.5,63.7 129.0,64.5 127.5,65.3 126.8,64.5 126.8,63.5 129.5,63.4 130.4,62.5 129.5,61.8 129.5,61.3 131.0,60.5 128.6,58.5 125.5,57.6 115.5,58.2 113.3,59.5 114.0,60.5 112.5,62.7 109.5,64.1 108.1,63.9 108.5,62.5 111.5,59.5 111.5,57.7 112.2,57.5 112.5,55.5 113.7,54.5 114.0,51.5 115.3,50.5 115.3,49.5 114.3,48.5 114.0,47.5 114.5,45.1 117.5,45.2 119.4,46.5 119.0,47.5 117.0,49.5 116.8,50.5 117.5,51.3 120.5,49.4 121.0,48.5 119.7,47.5 119.6,46.5 120.5,45.7 122.6,45.5 122.5,44.3 123.5,43.9 123.9,44.5 124.0,45.5 123.1,46.5 123.5,48.5 128.0,45.5 126.2,44.5 125.7,43.5ZM132.5,60.5 132.8,61.5 133.5,62.0 133.5,60.1ZM106.5,65.5 106.9,65.1 106.6,66.5 104.5,69.3 104.5,68.5 106.5,66.5ZM126.5,67.5 127.5,66.9 130.1,67.5 129.5,69.0 126.5,69.5 125.6,70.5 126.5,71.1 129.5,71.2 129.8,72.5 129.5,73.0 128.5,72.8 126.5,73.5 124.5,75.0 123.5,74.8 121.8,72.5 122.3,71.5 121.1,69.5 121.2,68.5 122.5,67.9 123.3,68.5 123.5,70.1 124.4,68.5ZM108.5,69.5 109.5,69.2 110.4,72.5 109.5,73.8 107.5,73.1 106.5,71.9 105.5,72.2 105.2,73.5 105.5,74.5 104.5,75.0 103.5,74.8 103.5,72.5 104.5,71.5 104.5,70.6 105.5,71.3 106.5,71.0ZM105.8,75.5 106.5,74.9 108.4,75.5 107.5,76.4 106.5,76.5ZM145.2,88.5 145.5,87.8 146.6,88.5 145.9,89.5 146.4,90.5 144.9,92.5 144.3,94.5 145.7,95.5 144.9,97.5 145.5,98.1 146.5,98.5 148.5,97.0 149.5,97.2 150.5,95.8 152.5,94.7 153.5,95.4 154.5,95.4 155.5,94.7 159.6,95.5 158.5,95.5 157.0,97.5 158.7,99.5 158.9,100.5 157.7,101.5 158.5,103.5 157.5,104.3 155.5,103.5 156.0,101.5 155.5,100.3 152.5,99.2 151.5,98.0 150.5,97.9 150.0,98.5 149.2,100.5 150.5,103.3 152.5,104.5 154.5,103.9 155.8,106.5 155.7,107.5 154.5,108.9 153.5,109.3 152.1,108.5 151.5,107.5 150.3,107.5 149.7,106.5 150.0,105.5 149.5,104.0 147.5,104.9 147.0,106.5 147.5,107.5 149.0,107.5 149.6,108.5 150.0,109.5 149.8,111.5 151.0,113.5 149.5,114.2 147.3,117.5 148.2,119.5 147.5,120.5 145.5,120.2 144.5,121.9 142.5,122.5 138.6,120.5 136.6,118.5 135.3,111.5 134.9,110.5 133.6,109.5 134.7,106.5 134.2,104.5 132.8,103.5 133.1,101.5 133.8,100.5 132.5,99.6 132.3,98.5 132.5,98.1 133.5,98.5 134.5,98.1 135.3,97.5 135.5,96.5 134.5,95.4 132.5,96.0 132.2,94.5 135.5,92.0 136.5,91.8 137.7,92.5 138.5,95.4 141.5,92.5 143.5,91.9 145.4,89.5ZM144.5,100.4 144.1,100.5 144.5,103.5 147.3,100.5 146.5,99.9ZM151.5,104.6 150.7,105.5 151.5,106.0 151.9,105.5ZM138.5,96.9 135.2,99.5 135.0,101.5 135.5,102.7 136.5,103.1 137.5,102.6 138.5,101.2 140.5,102.0 140.6,100.5 139.9,99.5 139.9,97.5 139.5,96.8ZM142.5,97.9 142.1,98.5 142.5,99.6 144.2,98.5ZM137.5,104.0 136.8,104.5 137.5,105.6 137.9,104.5ZM140.5,102.7 139.9,103.5 140.5,103.9 140.9,103.5ZM149.1,88.5 150.5,88.1 151.8,88.5 151.8,89.5 151.1,90.5 153.0,93.5 152.5,94.1 148.5,94.3 147.6,91.5 148.1,90.5 149.5,89.5ZM158.9,91.5 160.7,91.5 161.2,92.5 159.5,92.8 158.9,92.5ZM161.7,91.5 162.5,90.8 163.5,90.7 164.8,91.5 164.1,92.5 162.5,92.8 161.9,92.5ZM169.0,92.5 169.5,92.3 170.5,94.5 169.5,95.8 167.5,94.0 166.2,93.5ZM162.5,95.5 163.5,94.6 164.5,94.8 164.9,95.5 164.5,96.5 165.5,97.3 166.5,97.1 168.5,97.5 170.5,99.4 170.7,100.5 168.9,101.5 168.4,102.5 169.5,103.8 165.7,104.5 166.7,105.5 167.1,108.5 165.5,110.6 164.8,112.5 165.5,112.8 166.5,111.1 167.5,110.4 168.9,111.5 169.4,113.5 172.5,116.3 173.6,116.5 170.5,117.1 166.5,116.2 165.9,116.5 165.9,117.5 168.5,120.0 169.5,119.0 171.5,118.5 173.5,118.9 175.9,120.5 176.4,121.5 179.5,121.1 180.1,121.5 179.5,123.0 178.5,122.5 177.5,124.6 176.5,125.0 174.5,124.1 174.0,124.5 173.6,125.5 174.0,127.5 175.5,127.4 176.5,126.6 178.5,127.0 179.3,127.5 179.6,129.5 180.5,130.8 182.4,129.5 180.3,126.5 180.5,126.1 182.5,126.3 183.4,127.5 183.2,129.5 184.5,129.6 187.6,133.5 187.5,133.9 186.5,134.3 184.8,133.5 184.5,132.4 182.5,132.7 182.5,131.4 181.5,131.1 180.5,132.1 178.5,131.0 177.5,131.1 176.9,131.5 176.9,132.5 178.1,135.5 178.5,136.2 179.5,136.0 180.4,136.5 177.5,140.1 176.5,140.3 174.5,139.7 173.5,140.4 172.5,139.7 169.8,139.5 169.0,138.5 168.9,137.5 170.0,135.5 171.4,134.5 170.5,132.7 167.5,132.4 166.5,133.8 166.0,133.5 164.6,130.5 163.5,130.0 162.8,128.5 161.5,127.9 160.5,128.2 159.4,125.5 158.5,125.0 157.0,125.5 157.1,127.5 155.4,129.5 154.5,131.9 153.3,131.5 152.9,130.5 153.5,129.5 152.5,128.9 151.5,130.1 147.5,130.4 146.5,130.9 145.2,129.5 145.5,127.1 147.5,126.4 148.5,128.1 151.5,126.8 156.3,122.5 159.3,121.5 159.1,120.5 159.5,120.1 160.5,120.1 161.5,120.4 162.5,123.1 165.5,123.7 166.4,124.5 166.5,125.8 168.0,126.5 166.7,127.5 167.5,129.8 168.5,130.1 169.5,129.5 170.5,127.6 172.3,130.5 171.2,132.5 173.5,132.3 174.5,131.7 175.3,130.5 173.7,129.5 172.1,127.5 172.1,126.5 170.5,126.0 169.5,126.7 168.5,125.6 171.0,122.5 170.5,120.9 168.5,123.0 166.5,122.5 165.5,120.4 163.5,119.1 161.5,118.8 160.5,117.3 159.5,117.1 157.5,117.9 157.1,117.5 159.5,115.5 160.5,114.0 162.0,113.5 162.2,112.5 161.6,111.5 163.5,110.0 163.9,108.5 165.5,107.5 165.5,106.5 164.5,105.9 163.5,106.5 162.5,105.5 162.8,104.5 165.9,101.5 166.7,99.5 165.5,99.3 164.5,100.3 163.5,100.6 162.5,99.0 160.5,98.8 160.2,98.5 162.0,97.5ZM174.5,132.9 172.3,135.5 172.5,137.5 173.2,136.5 172.9,135.5 175.5,134.6ZM164.5,113.0 162.3,115.5 162.5,116.5 164.5,117.3 165.4,116.5 165.4,115.5ZM160.4,102.5 161.1,103.5 159.5,105.0 158.8,104.5 158.6,103.5 159.5,103.4ZM161.2,108.5 162.5,107.6 163.1,108.5ZM151.5,117.5 154.5,117.6 156.6,119.5 155.9,120.5 153.5,122.1 151.5,121.2 150.5,121.5 149.5,121.3 148.9,120.5 149.5,120.0 151.9,119.5 152.3,118.5ZM157.8,129.5 158.6,129.5 160.9,131.5 160.5,133.1 158.5,133.3 157.2,132.5 156.8,130.5ZM148.2,131.5 148.5,130.9 149.5,130.7 150.6,131.5 150.6,132.5 149.5,133.1 148.5,132.8 148.1,132.5ZM162.3,133.5 163.5,133.1 164.4,133.5 162.5,136.1 161.5,135.5ZM183.3,133.5 183.5,133.2 184.5,133.9 184.9,135.5 182.8,135.5 183.3,134.5ZM180.6,135.5 182.2,135.5 181.5,136.1ZM166.7,136.5 167.5,136.0 168.3,136.5 167.5,137.5ZM119.9,189.5 120.5,188.7 120.7,190.5ZM117.5,192.5 118.5,192.8 119.2,194.5 120.5,194.8 120.8,194.5 120.6,193.5 121.5,192.4 122.7,193.5 121.5,195.5 123.6,197.5 123.3,198.5 121.6,199.5 121.9,200.5 121.5,201.7 119.9,201.5 118.7,198.5 118.9,197.5 117.5,197.0Z"/>
<path fill="#4f92ca" fill-rule="evenodd" d="M126.2,43.5 126.5,43.1 127.6,43.5 126.5,44.0ZM129.1,45.5 130.7,45.5 131.7,47.5 137.5,52.5 140.5,56.0 142.5,55.8 144.5,56.9 145.5,55.7 145.8,56.5 147.5,57.2 148.5,55.7 150.5,55.6 151.5,54.1 154.5,52.9 155.5,53.1 157.5,51.3 158.5,51.2 159.5,52.6 161.5,52.5 163.5,51.8 163.9,52.5 165.5,52.7 166.5,52.4 166.8,50.8 167.5,51.5 170.5,51.5 171.5,52.5 172.5,52.5 173.0,53.0 172.8,54.5 173.5,55.5 177.9,56.9 180.5,59.5 180.5,60.5 181.5,61.5 181.5,63.5 182.5,64.5 182.5,66.5 183.5,67.5 185.5,67.5 186.5,68.5 188.5,68.5 189.5,69.5 190.5,69.5 191.5,70.5 192.6,70.6 193.5,72.8 195.2,74.5 194.9,76.5 193.5,77.2 188.5,77.7 186.5,79.2 185.1,79.5 182.9,81.5 181.5,81.6 178.6,79.5 178.3,78.5 178.6,76.5 175.5,72.7 170.5,69.8 168.5,66.7 167.5,66.6 165.5,67.7 163.5,70.2 159.5,71.6 158.3,70.5 156.5,69.9 154.5,67.3 149.2,64.5 147.5,61.4 144.5,60.8 140.5,60.9 137.5,61.7 135.5,61.3 134.7,60.5 134.5,59.5 133.5,59.0 131.5,59.3 125.5,57.3 118.5,57.8 115.5,57.3 114.6,55.5 114.8,54.5 116.5,53.5 119.3,50.5 122.5,48.6 123.5,48.9 126.5,48.7 126.5,47.5ZM169.5,64.3 169.0,64.5 169.5,64.7 170.7,64.5ZM121.1,47.5 121.5,46.8 122.0,47.5 121.5,47.9ZM108.5,62.5 109.3,61.7 110.2,62.5 109.5,63.0 108.5,63.0ZM104.5,71.5 104.5,71.2 104.9,71.5 104.9,72.5 104.5,73.2 103.5,73.7 103.5,72.5ZM107.5,71.5 108.5,71.1 109.5,71.3 109.7,72.5 108.5,72.6ZM123.0,72.5 123.5,71.7 125.7,72.5 123.5,73.4ZM149.4,91.5 150.5,91.8 150.9,92.5 150.5,93.2 149.5,93.4 148.9,92.5ZM135.1,93.5 136.5,92.8 136.5,95.0ZM141.4,94.5 142.5,94.2 143.0,94.5 142.5,94.9ZM156.0,98.5 156.5,98.2 157.5,99.2 158.0,100.5 157.5,100.8 156.6,100.5 155.4,99.5ZM142.3,102.5 142.5,102.1 142.5,103.0ZM146.6,102.5 147.5,101.8 148.5,101.8 148.9,102.5 147.5,103.6ZM135.4,104.5 137.5,107.8 138.2,106.5 139.5,105.5 145.5,104.8 146.2,105.5 146.1,107.5 148.5,108.4 149.1,109.5 149.0,113.5 143.5,121.8 141.5,121.9 139.1,120.5 137.0,118.5 135.7,112.5ZM163.2,105.5 163.5,104.5 163.9,105.5ZM152.6,106.5 153.5,105.7 154.4,106.5 154.6,107.5 153.5,107.9ZM167.4,112.5 167.8,113.5 166.5,114.4 166.0,113.5 166.5,112.8ZM154.2,119.5 154.5,118.7 155.3,119.5 154.5,119.9ZM160.2,122.5 160.5,122.0 161.5,123.7 158.5,123.9 157.2,123.5 158.5,123.0 159.5,123.1ZM171.4,123.5 172.5,122.9 173.7,123.5 172.5,124.9 171.2,124.5ZM154.3,125.5 155.5,125.6 156.6,126.5 156.5,127.5 154.5,128.7 152.8,127.5 153.0,126.5ZM163.1,125.5 164.5,125.1 165.1,125.5 165.2,126.5 163.5,127.6 162.4,126.5ZM175.0,128.5 176.5,127.7 177.9,128.5 176.5,129.3 175.5,129.1ZM146.1,129.5 146.5,128.6 146.9,129.5 146.5,129.9ZM170.0,130.5 170.5,129.5 171.4,130.5 170.5,131.0ZM158.2,131.5 158.5,131.0 159.5,131.0 160.2,131.5 159.5,132.7 158.4,132.5ZM120.9,197.5 121.5,197.1 122.5,197.5 120.5,199.0 119.8,198.5Z"/>
<path fill="#4386c2" fill-rule="evenodd" d="M128.3,46.5 129.5,45.8 130.5,46.0 131.5,48.0 137.5,53.3 140.5,56.9 142.5,56.6 144.5,58.1 145.5,57.6 147.5,57.9 148.5,56.9 150.5,56.3 152.5,54.1 155.5,53.9 157.5,52.6 159.5,53.6 162.5,53.1 165.5,53.3 167.1,52.5 167.4,51.4 170.5,51.5 171.5,52.5 172.6,52.6 172.3,54.5 173.5,56.4 178.4,57.4 180.5,59.5 180.5,60.5 181.5,61.5 181.5,63.5 182.5,64.5 182.5,66.5 183.5,67.5 185.5,67.5 186.5,68.5 188.5,68.5 189.5,69.5 190.5,69.5 192.0,70.5 192.8,72.5 194.5,74.8 194.4,76.5 188.5,77.4 186.5,78.9 184.5,79.4 182.5,81.3 181.5,81.2 179.3,79.5 179.3,76.5 176.1,72.5 173.8,70.5 171.7,69.5 169.5,67.0 169.5,66.4 171.5,66.2 171.7,64.5 170.9,63.5 168.5,63.5 166.5,66.2 163.5,68.9 161.5,70.1 159.5,70.6 156.5,69.2 153.5,66.1 151.5,65.6 149.6,64.5 147.5,60.8 144.5,60.2 137.5,61.4 135.6,60.5 134.5,58.4 131.5,58.8 125.5,57.0 118.5,57.5 116.5,57.1 115.7,56.5 115.5,55.2 120.3,50.5 122.5,49.1 126.5,49.7 127.3,47.5ZM139.3,106.5 140.5,106.1 143.5,106.3 148.2,109.5 148.6,112.5 148.2,113.5 145.5,116.4 144.5,118.1 143.9,120.5 142.5,121.7 139.7,120.5 137.5,118.5 136.6,115.5 136.2,110.5 137.5,109.0 138.7,108.5ZM154.3,126.5 155.5,126.4 155.5,127.2 154.5,127.1Z"/>
<path fill="#377ab9" fill-rule="evenodd" d="M128.9,46.5 129.5,46.2 130.2,46.5 131.4,48.5 137.5,54.2 140.5,58.1 142.5,57.4 143.6,58.5 143.5,59.5 142.5,60.1 137.5,61.0 136.3,60.5 134.5,57.3 131.5,58.2 125.5,56.6 118.5,57.2 116.2,56.5 115.9,55.5 116.5,54.8 118.5,53.5 121.1,50.5 122.5,49.7 125.5,50.4 126.5,50.1 127.9,47.5ZM167.9,51.5 170.5,51.5 171.9,52.5 172.1,55.5 173.5,57.6 178.9,57.9 180.5,59.5 180.5,60.5 181.5,61.5 181.5,63.5 182.5,64.5 182.5,66.5 183.5,67.5 185.5,67.5 186.5,68.5 188.5,68.5 189.5,69.5 190.5,69.5 191.4,70.4 192.7,73.5 194.1,75.5 193.7,76.5 188.5,77.1 186.5,78.6 184.5,79.0 182.5,81.0 181.5,80.7 179.7,78.5 179.5,75.8 174.9,70.5 172.5,69.4 171.8,68.5 172.2,64.5 171.5,63.0 169.5,62.8 167.5,63.3 166.5,65.1 165.5,65.5 164.2,67.5 162.5,68.2 161.3,69.5 159.5,69.9 156.5,68.5 154.5,66.0 152.5,65.1 151.5,65.2 149.5,63.9 148.5,61.2 147.5,60.0 145.3,59.5 145.9,58.5 147.5,58.8 148.5,57.7 151.4,56.5 153.3,54.5 156.0,54.5 157.5,53.3 159.5,54.1 161.5,53.9 163.5,54.2 165.5,53.8 167.5,52.9ZM140.2,107.5 141.5,106.9 143.5,107.0 144.5,108.2 146.7,109.5 147.6,112.5 147.5,112.8 146.5,112.5 145.8,114.5 144.0,117.5 143.4,120.5 142.5,121.2 140.3,120.5 137.5,117.8 137.0,115.5 136.4,111.5 136.8,110.5 137.5,109.7 139.5,109.3Z"/>
<path fill="#2c6eb0" fill-rule="evenodd" d="M128.3,47.5 129.5,46.6 130.7,48.5 133.5,50.9 137.5,55.5 138.5,56.0 139.5,58.2 140.8,59.5 138.7,60.5 137.1,60.5 136.2,59.5 134.5,55.5 132.6,57.5 131.5,57.8 130.2,57.5 128.5,56.3 125.5,56.2 118.5,56.9 116.9,56.5 116.5,55.4 119.5,53.6 120.5,51.7 121.9,50.5 122.5,50.1 125.5,51.1 126.5,50.7 127.7,49.5ZM168.3,51.5 170.5,51.5 171.1,52.1 170.1,52.5 171.4,54.5 172.5,58.0 173.5,58.5 175.5,58.2 179.6,58.6 180.5,59.5 180.5,60.5 181.5,61.5 181.5,63.5 182.5,64.5 182.5,66.5 183.5,67.5 185.5,67.5 186.5,68.5 188.5,68.5 189.5,69.5 190.6,69.6 192.1,73.5 193.6,75.5 192.7,76.5 188.5,76.7 186.5,78.2 184.5,78.6 182.7,80.5 182.1,80.5 180.3,77.5 180.1,75.5 178.6,74.5 178.3,73.5 176.4,71.5 175.5,69.7 172.4,68.5 172.7,64.5 171.5,62.1 167.5,62.6 164.5,64.6 164.2,66.5 163.5,67.3 162.5,67.5 160.5,69.2 157.5,68.8 154.5,65.3 152.5,64.6 151.5,64.8 149.6,63.5 148.8,60.5 148.0,59.5 148.5,58.3 150.5,57.9 153.5,55.2 156.5,55.2 157.5,54.4 161.5,54.5 162.5,55.2 163.5,55.2 167.9,53.5ZM142.3,58.5 142.6,58.5 142.5,59.0ZM141.6,107.5 143.3,107.5 143.6,108.5 145.8,110.5 142.5,120.6 140.5,120.1 139.5,118.2 137.5,116.7 136.9,111.5 137.5,110.3 139.5,110.4 142.2,109.5 141.4,108.5Z"/>
<path fill="#205c9d" fill-rule="evenodd" d="M128.7,48.5 129.5,47.5 131.5,50.9 133.5,51.9 135.8,54.5 135.5,54.9 130.8,55.5 130.9,56.5 130.5,56.8 129.7,56.5 129.9,55.5 128.5,54.8 124.5,55.8 121.2,55.5 120.4,53.5 121.6,51.5 122.5,50.8 125.5,52.2 126.5,51.9ZM117.3,55.5 118.5,55.1 119.7,55.5 119.4,56.5 118.5,56.6ZM157.4,55.5 161.1,55.5 162.1,56.5 161.7,57.5 163.5,59.3 164.4,58.5 163.8,56.5 166.5,54.7 167.5,54.6 170.5,55.5 171.0,57.5 172.5,59.1 173.5,59.4 176.5,58.8 178.5,59.7 180.5,59.6 180.5,60.5 181.5,61.5 181.5,63.5 182.5,64.5 182.5,66.5 183.5,67.5 185.5,67.5 186.5,68.5 188.5,68.5 189.5,69.5 191.3,73.5 190.4,75.5 188.5,76.2 186.5,77.8 182.5,78.5 181.5,78.1 180.8,76.5 180.9,75.5 179.5,74.4 176.4,70.5 176.4,67.5 175.5,66.7 173.5,67.2 172.8,62.5 171.5,60.5 170.5,61.5 167.5,61.9 165.5,63.1 164.5,63.1 163.5,65.8 162.5,66.1 161.8,67.5 160.5,68.4 157.5,68.3 155.2,64.5 153.5,63.8 151.5,64.3 150.2,63.5 149.6,61.5 149.8,59.5 153.5,56.4 156.5,56.2ZM178.5,62.0 177.9,62.5 178.5,63.9 178.9,63.5ZM179.5,64.7 178.7,65.5 178.7,66.5 179.5,67.5 180.0,65.5ZM136.2,56.5 136.5,56.0 138.2,56.5 139.0,59.5 137.5,59.9 137.0,59.5 136.3,58.5ZM190.7,75.5 191.5,75.1 192.7,75.5ZM182.1,79.5 182.5,78.6 182.7,79.5 182.5,79.8ZM138.0,111.5 138.8,111.5 140.5,113.4 141.3,112.5 140.2,111.5 141.5,110.6 144.5,111.0 144.3,112.5 143.0,113.5 143.3,115.5 142.5,119.5 141.5,119.8 140.7,119.5 140.9,117.5 138.8,116.5 137.5,113.5Z"/>
<path fill="#12427a" fill-rule="evenodd" d="M151.9,59.5 152.5,58.9 153.4,59.5 153.5,60.8 151.9,60.5ZM160.5,59.5 161.5,59.3 162.3,60.5 161.5,60.6ZM160.3,66.5 160.5,65.6 160.6,66.5 160.5,66.8ZM183.1,69.5 183.8,69.5 184.1,70.5 186.0,72.5 186.3,73.5 187.5,73.3 188.4,74.5 187.8,75.5 186.5,76.4 185.1,76.5 184.2,75.5 184.1,73.5 182.3,70.5Z"/>
</g>
</g>
<g fill="#98908a"><rect x="107.1" y="74.6" width="1.8" height="1.8"/><rect x="119.2" y="48.5" width="1.8" height="1.8"/><rect x="119.2" y="55.0" width="1.8" height="1.8"/><rect x="125.2" y="48.5" width="1.8" height="1.8"/><rect x="125.2" y="55.0" width="1.8" height="1.8"/><rect x="125.2" y="68.1" width="1.8" height="1.8"/><rect x="125.2" y="74.6" width="1.8" height="1.8"/><rect x="131.2" y="48.5" width="1.8" height="1.8"/><rect x="131.2" y="55.0" width="1.8" height="1.8"/><rect x="131.2" y="61.6" width="1.8" height="1.8"/><rect x="131.2" y="100.8" width="1.8" height="1.8"/><rect x="137.3" y="55.0" width="1.8" height="1.8"/><rect x="137.3" y="94.2" width="1.8" height="1.8"/><rect x="137.3" y="100.8" width="1.8" height="1.8"/><rect x="137.3" y="107.3" width="1.8" height="1.8"/><rect x="137.3" y="113.8" width="1.8" height="1.8"/><rect x="143.3" y="55.0" width="1.8" height="1.8"/><rect x="143.3" y="94.2" width="1.8" height="1.8"/><rect x="143.3" y="100.8" width="1.8" height="1.8"/><rect x="143.3" y="107.3" width="1.8" height="1.8"/><rect x="143.3" y="113.8" width="1.8" height="1.8"/><rect x="143.3" y="120.4" width="1.8" height="1.8"/><rect x="143.3" y="146.5" width="1.8" height="1.8"/><rect x="143.3" y="153.0" width="1.8" height="1.8"/><rect x="143.3" y="159.6" width="1.8" height="1.8"/><rect x="143.3" y="166.1" width="1.8" height="1.8"/><rect x="149.4" y="55.0" width="1.8" height="1.8"/><rect x="149.4" y="61.6" width="1.8" height="1.8"/><rect x="149.4" y="87.7" width="1.8" height="1.8"/><rect x="149.4" y="94.2" width="1.8" height="1.8"/><rect x="149.4" y="100.8" width="1.8" height="1.8"/><rect x="149.4" y="107.3" width="1.8" height="1.8"/><rect x="149.4" y="113.8" width="1.8" height="1.8"/><rect x="149.4" y="120.4" width="1.8" height="1.8"/><rect x="149.4" y="126.9" width="1.8" height="1.8"/><rect x="149.4" y="140.0" width="1.8" height="1.8"/><rect x="149.4" y="146.5" width="1.8" height="1.8"/><rect x="149.4" y="153.0" width="1.8" height="1.8"/><rect x="149.4" y="159.6" width="1.8" height="1.8"/><rect x="149.4" y="166.1" width="1.8" height="1.8"/><rect x="155.4" y="48.5" width="1.8" height="1.8"/><rect x="155.4" y="55.0" width="1.8" height="1.8"/><rect x="155.4" y="61.6" width="1.8" height="1.8"/><rect x="155.4" y="68.1" width="1.8" height="1.8"/><rect x="155.4" y="94.2" width="1.8" height="1.8"/><rect x="155.4" y="100.8" width="1.8" height="1.8"/><rect x="155.4" y="120.4" width="1.8" height="1.8"/><rect x="155.4" y="126.9" width="1.8" height="1.8"/><rect x="155.4" y="140.0" width="1.8" height="1.8"/><rect x="155.4" y="146.5" width="1.8" height="1.8"/><rect x="155.4" y="153.0" width="1.8" height="1.8"/><rect x="155.4" y="159.6" width="1.8" height="1.8"/><rect x="155.4" y="166.1" width="1.8" height="1.8"/><rect x="161.4" y="55.0" width="1.8" height="1.8"/><rect x="161.4" y="61.6" width="1.8" height="1.8"/><rect x="161.4" y="68.1" width="1.8" height="1.8"/><rect x="161.4" y="94.2" width="1.8" height="1.8"/><rect x="161.4" y="100.8" width="1.8" height="1.8"/><rect x="161.4" y="107.3" width="1.8" height="1.8"/><rect x="161.4" y="113.8" width="1.8" height="1.8"/><rect x="161.4" y="120.4" width="1.8" height="1.8"/><rect x="161.4" y="126.9" width="1.8" height="1.8"/><rect x="161.4" y="133.4" width="1.8" height="1.8"/><rect x="167.5" y="55.0" width="1.8" height="1.8"/><rect x="167.5" y="61.6" width="1.8" height="1.8"/><rect x="167.5" y="68.1" width="1.8" height="1.8"/><rect x="167.5" y="94.2" width="1.8" height="1.8"/><rect x="167.5" y="100.8" width="1.8" height="1.8"/><rect x="167.5" y="113.8" width="1.8" height="1.8"/><rect x="167.5" y="120.4" width="1.8" height="1.8"/><rect x="167.5" y="126.9" width="1.8" height="1.8"/><rect x="167.5" y="133.4" width="1.8" height="1.8"/><rect x="173.5" y="61.6" width="1.8" height="1.8"/><rect x="173.5" y="68.1" width="1.8" height="1.8"/><rect x="173.5" y="120.4" width="1.8" height="1.8"/><rect x="173.5" y="126.9" width="1.8" height="1.8"/><rect x="173.5" y="133.4" width="1.8" height="1.8"/><rect x="173.5" y="140.0" width="1.8" height="1.8"/><rect x="179.6" y="74.6" width="1.8" height="1.8"/><rect x="179.6" y="126.9" width="1.8" height="1.8"/><rect x="179.6" y="133.4" width="1.8" height="1.8"/><rect x="185.6" y="74.6" width="1.8" height="1.8"/><rect x="185.6" y="107.3" width="1.8" height="1.8"/><rect x="185.6" y="113.8" width="1.8" height="1.8"/><rect x="191.7" y="74.6" width="1.8" height="1.8"/><rect x="191.7" y="87.7" width="1.8" height="1.8"/><rect x="191.7" y="113.8" width="1.8" height="1.8"/><rect x="197.7" y="87.7" width="1.8" height="1.8"/><rect x="203.7" y="87.7" width="1.8" height="1.8"/></g>
<path d="M84.0,29.5 L100.3,29.5 L99.9,33.8 L98.9,36.7 L97.9,39.2 L98.0,41.2 L99.3,43.2 L101.3,44.6 L103.5,45.5 L105.6,45.7 L107.8,44.7 L109.5,43.6 L111.9,44.4 L113.3,45.6 L115.0,46.2 L116.3,44.0 L118.6,40.5 L120.0,40.0 L122.5,39.1 L124.9,38.2 L126.8,37.2 L128.0,36.3 L128.9,36.6 L128.6,38.2 L128.3,40.0 L129.8,38.8 L131.4,37.8 L132.3,37.2 L133.5,36.6 L134.8,36.9 L135.1,38.5 L136.0,39.4 L136.6,41.2 L137.8,41.5 L140.0,41.2 L143.0,42.3 L146.5,41.9 L150.0,41.9 L152.9,40.9 L153.9,42.4 L154.4,44.9 L155.9,46.3 L157.8,47.8 L159.8,49.8 L161.8,51.7 L163.7,53.2 L166.7,53.5 L169.6,53.7 L172.5,55.2 L175.5,56.6 L177.5,58.6 L178.4,61.0 L178.9,63.0 L180.2,65.2 L179.4,67.8 L177.0,69.4 L177.8,71.0 L181.0,69.4 L184.5,70.1 L189.6,71.6 L194.4,74.0 L199.3,75.7 L204.1,76.5 L209.0,78.9 L213.0,81.3 L215.4,83.7 L216.7,87.8 L216.2,91.0 L213.8,94.3 L211.4,97.5 L209.0,100.7 L207.3,104.6 L206.2,109.9 L205.4,114.7 L204.1,120.4 L201.7,124.4 L199.3,127.6 L194.4,129.3 L190.4,130.9 L187.1,133.3 L185.0,136.0 L183.7,139.8 L181.7,143.5 L179.1,147.1 L176.7,150.4 L173.4,153.6 L169.4,157.6 L166.2,160.1 L162.9,160.9 L160.5,158.4 L159.7,159.3 L162.1,162.5 L163.7,164.9 L162.1,167.3 L158.9,169.6 L154.9,171.1 L152.2,172.2 L150.6,174.4 L148.7,175.8 L146.2,178.2 L144.0,180.0 L144.0,182.8 L142.7,185.5 L140.6,187.6 L139.2,189.0 L139.9,191.1 L142.0,193.1 L142.7,195.2 L141.3,197.3 L138.5,199.4 L135.7,201.4 L134.4,204.2 L135.1,206.3 L137.8,207.7 L141.3,209.0 L144.7,210.4 L142.7,212.5 L138.5,213.2 L134.4,213.2 L130.2,211.8 L127.4,209.7 L125.4,207.0 L123.3,204.9 L121.2,202.1 L119.8,198.7 L119.8,195.2 L119.8,191.1 L120.5,187.6 L121.2,184.1 L121.9,181.4 L123.0,178.0 L123.9,175.0 L124.2,171.0 L125.0,166.5 L125.8,162.0 L127.6,157.5 L128.4,151.0 L129.2,145.0 L130.1,140.5 L130.8,135.5 L131.4,128.0 L131.8,124.0 L130.8,119.8 L129.1,115.7 L125.9,112.5 L121.9,110.1 L118.6,107.6 L116.2,101.2 L113.9,100.1 L112.3,96.3 L110.8,92.4 L109.3,89.3 L106.9,86.2 L105.9,83.1 L106.2,80.1 L105.4,77.0 L106.2,73.9 L106.9,69.3 L109.3,65.4 L111.6,62.3 L113.6,59.7 L114.5,56.6 L114.7,53.0 L114.4,50.0 L113.8,47.5 L112.0,45.6 L110.9,45.2 L109.3,46.3 L107.8,48.2 L108.0,49.7 L106.6,49.5 L105.2,48.6 L103.2,47.6 L101.3,46.6 L99.4,45.6 L97.5,44.6 L96.0,43.6 L94.6,42.2 L93.1,40.3 L91.2,37.4 L89.3,35.0 L86.9,34.0 L84.0,33.4 Z" fill="none" stroke="#000" stroke-width="1.3" stroke-linejoin="round"/>
<ellipse cx="128.6" cy="43.2" rx="1.0" ry="2.1" fill="#000"/>
<ellipse cx="123.4" cy="180.3" rx="1.1" ry="2.0" fill="#000"/>
<path d="M122.6,180 L121.5,184 L120.6,187.6 L119.6,191 L119.4,195.2 L119.6,198.8 L120.8,202.4 L122.9,205.3 L125.1,207.5 L127.2,210.1 L130.1,212.2 L133.5,213.4" fill="none" stroke="#000" stroke-width="2" stroke-linejoin="round" stroke-linecap="round"/>
<path d="M126.5,207.6 L130,208.6 L134.6,207.4" fill="none" stroke="#000" stroke-width="1.1"/>
<ellipse cx="146.4" cy="179.3" rx="1.5" ry="1.0" fill="#000"/>
<path d="M150.6,41.2 L152.6,40.3 L154.6,40.6 L154.3,42.6 L152.4,43.4 L150.8,42.6 Z" fill="#000"/>
<path d="M153,30.2 L155,30.4 L154.4,31.2 L153.2,31.0 Z" fill="#000"/>
<path d="M153.8,204.2 L155,202.4 L157.4,202.7 L159.6,201.8 L162.1,202.4 L162.4,204.0 L160.6,205.5 L157.6,205.0 L155.3,205.6 Z" fill="#d46a55" stroke="#000" stroke-width="1.5" stroke-linejoin="round"/>
<path d="M209.3,209.8 L214.5,212.0" stroke="#000" stroke-width="1.6" stroke-linecap="round"/>
<rect x="120" y="55.5" width="45.5" height="34" fill="none" stroke="#222" stroke-width="0.9"/>
</g>
<rect x="84.3" y="30" width="143.9" height="195.6" fill="none" stroke="#bdbdbd" stroke-width="1.4"/>
<g stroke="#555" stroke-width="0.7"><line x1="98.7" y1="225.6" x2="98.7" y2="223.4"/><line x1="98.7" y1="30" x2="98.7" y2="32.2"/><line x1="127.5" y1="225.6" x2="127.5" y2="223.4"/><line x1="127.5" y1="30" x2="127.5" y2="32.2"/><line x1="156.2" y1="225.6" x2="156.2" y2="223.4"/><line x1="156.2" y1="30" x2="156.2" y2="32.2"/><line x1="185.0" y1="225.6" x2="185.0" y2="223.4"/><line x1="185.0" y1="30" x2="185.0" y2="32.2"/><line x1="213.8" y1="225.6" x2="213.8" y2="223.4"/><line x1="213.8" y1="30" x2="213.8" y2="32.2"/><line x1="84.3" y1="69.0" x2="86.5" y2="69.0"/><line x1="228.2" y1="69.0" x2="226" y2="69.0"/><line x1="84.3" y1="108.2" x2="86.5" y2="108.2"/><line x1="228.2" y1="108.2" x2="226" y2="108.2"/><line x1="84.3" y1="147.3" x2="86.5" y2="147.3"/><line x1="228.2" y1="147.3" x2="226" y2="147.3"/><line x1="84.3" y1="186.5" x2="86.5" y2="186.5"/><line x1="228.2" y1="186.5" x2="226" y2="186.5"/></g>
<rect x="84.8" y="238.6" width="147" height="12.2" fill="url(#cb)" stroke="#222" stroke-width="0.5"/>
<g stroke="#222" stroke-width="0.6"><line x1="108.9" y1="238.6" x2="108.9" y2="240.2"/><line x1="108.9" y1="250.8" x2="108.9" y2="249.2"/><line x1="133.6" y1="238.6" x2="133.6" y2="240.2"/><line x1="133.6" y1="250.8" x2="133.6" y2="249.2"/><line x1="158.3" y1="238.6" x2="158.3" y2="240.2"/><line x1="158.3" y1="250.8" x2="158.3" y2="249.2"/><line x1="183.0" y1="238.6" x2="183.0" y2="240.2"/><line x1="183.0" y1="250.8" x2="183.0" y2="249.2"/><line x1="207.7" y1="238.6" x2="207.7" y2="240.2"/><line x1="207.7" y1="250.8" x2="207.7" y2="249.2"/></g>
</svg>
<div style="position:absolute;left:70.75px;top:26.3px;font-family:'Liberation Serif',serif;font-weight:bold;font-size:9.5px;color:#222;white-space:nowrap;line-height:1;transform:scaleX(0.7);transform-origin:0 0;">15<sup>0</sup>N</div>
<div style="position:absolute;left:75.95px;top:65.0px;font-family:'Liberation Serif',serif;font-weight:bold;font-size:9.5px;color:#555;white-space:nowrap;line-height:1;transform:scaleX(0.8);transform-origin:0 0;">0<sup>0</sup></div>
<div style="position:absolute;left:70.8px;top:104.75px;font-family:'Liberation Serif',serif;font-weight:bold;font-size:9.5px;color:#222;white-space:nowrap;line-height:1;transform:scaleX(0.7);transform-origin:0 0;">15<sup>0</sup>S</div>
<div style="position:absolute;left:70.9px;top:143.65px;font-family:'Liberation Serif',serif;font-weight:bold;font-size:9.5px;color:#222;white-space:nowrap;line-height:1;transform:scaleX(0.7);transform-origin:0 0;">30<sup>0</sup>S</div>
<div style="position:absolute;left:70.9px;top:182.75px;font-family:'Liberation Serif',serif;font-weight:bold;font-size:9.5px;color:#222;white-space:nowrap;line-height:1;transform:scaleX(0.7);transform-origin:0 0;">45<sup>0</sup>S</div>
<div style="position:absolute;left:70.85px;top:222.15px;font-family:'Liberation Serif',serif;font-weight:bold;font-size:9.5px;color:#222;white-space:nowrap;line-height:1;transform:scaleX(0.7);transform-origin:0 0;">60<sup>0</sup>S</div>
<div style="position:absolute;left:91.87px;top:225.05px;font-family:'Liberation Serif',serif;font-weight:bold;font-size:9px;color:#3a3a3a;white-space:nowrap;line-height:1;transform:scaleX(0.66);transform-origin:0 0;">84<sup>0</sup>W</div>
<div style="position:absolute;left:120.97px;top:225.05px;font-family:'Liberation Serif',serif;font-weight:bold;font-size:9px;color:#3a3a3a;white-space:nowrap;line-height:1;transform:scaleX(0.66);transform-origin:0 0;">72<sup>0</sup>W</div>
<div style="position:absolute;left:148.87px;top:225.05px;font-family:'Liberation Serif',serif;font-weight:bold;font-size:9px;color:#3a3a3a;white-space:nowrap;line-height:1;transform:scaleX(0.66);transform-origin:0 0;">60<sup>0</sup>W</div>
<div style="position:absolute;left:176.87px;top:225.05px;font-family:'Liberation Serif',serif;font-weight:bold;font-size:9px;color:#3a3a3a;white-space:nowrap;line-height:1;transform:scaleX(0.66);transform-origin:0 0;">48<sup>0</sup>W</div>
<div style="position:absolute;left:206.77px;top:225.05px;font-family:'Liberation Serif',serif;font-weight:bold;font-size:9px;color:#3a3a3a;white-space:nowrap;line-height:1;transform:scaleX(0.66);transform-origin:0 0;">36<sup>0</sup>W</div>
<div style="position:absolute;left:99.65px;top:251.85px;font-family:'Liberation Serif',serif;font-weight:bold;font-size:9px;color:#222;white-space:nowrap;line-height:1;transform:scaleX(0.86);transform-origin:0 0;">&minus;120</div>
<div style="position:absolute;left:127.48px;top:251.85px;font-family:'Liberation Serif',serif;font-weight:bold;font-size:9px;color:#222;white-space:nowrap;line-height:1;transform:scaleX(0.82);transform-origin:0 0;">-60</div>
<div style="position:absolute;left:156.36px;top:251.85px;font-family:'Liberation Serif',serif;font-weight:bold;font-size:9px;color:#222;white-space:nowrap;line-height:1;transform:scaleX(0.82);transform-origin:0 0;">0</div>
<div style="position:absolute;left:178.16px;top:251.85px;font-family:'Liberation Serif',serif;font-weight:bold;font-size:9px;color:#222;white-space:nowrap;line-height:1;transform:scaleX(0.82);transform-origin:0 0;">60</div>
<div style="position:absolute;left:202.33px;top:251.85px;font-family:'Liberation Serif',serif;font-weight:bold;font-size:9px;color:#222;white-space:nowrap;line-height:1;transform:scaleX(0.86);transform-origin:0 0;">120</div>
<div style="position:absolute;left:242.8px;top:238.6px;font-family:'Liberation Serif',serif;font-weight:bold;font-size:14.5px;color:#111;white-space:nowrap;line-height:1;transform:scaleX(0.691);transform-origin:0 0;-webkit-text-stroke:0.3px #111;">mm/month*36years</div>
</body></html>
